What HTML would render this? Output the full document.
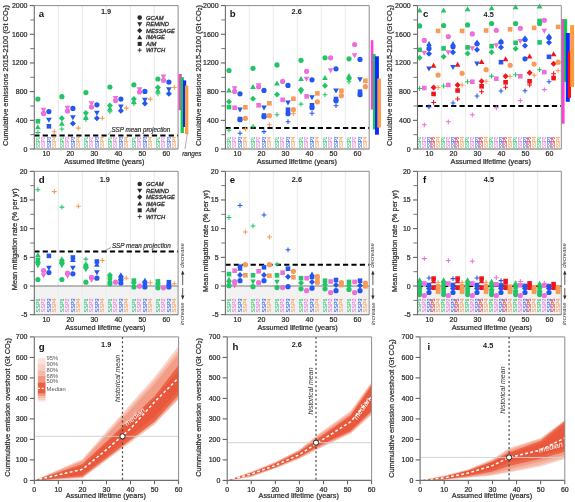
<!DOCTYPE html>
<html><head><meta charset="utf-8"><style>
html,body{margin:0;padding:0;background:#fff;}
svg{display:block;will-change:transform;font-family:"Liberation Sans", sans-serif;}
.t{stroke:#2a2a2a;stroke-width:0.22px;}
</style></head><body>
<svg width="575" height="502" viewBox="0 0 575 502">
<rect width="575" height="502" fill="#fff"/>
<path d="M58.3 5.6V149" stroke="#ededed" stroke-width="1.3"/>
<path d="M82.3 5.6V149" stroke="#ededed" stroke-width="1.3"/>
<path d="M106.3 5.6V149" stroke="#ededed" stroke-width="1.3"/>
<path d="M130.3 5.6V149" stroke="#ededed" stroke-width="1.3"/>
<path d="M154.3 5.6V149" stroke="#ededed" stroke-width="1.3"/>
<text x="46.3" y="156.4" font-size="7" text-anchor="middle" fill="#2a2a2a" class="t">10</text>
<text x="70.3" y="156.4" font-size="7" text-anchor="middle" fill="#2a2a2a" class="t">20</text>
<text x="94.3" y="156.4" font-size="7" text-anchor="middle" fill="#2a2a2a" class="t">30</text>
<text x="118.3" y="156.4" font-size="7" text-anchor="middle" fill="#2a2a2a" class="t">40</text>
<text x="142.3" y="156.4" font-size="7" text-anchor="middle" fill="#2a2a2a" class="t">50</text>
<text x="166.3" y="156.4" font-size="7" text-anchor="middle" fill="#2a2a2a" class="t">60</text>
<text x="104.3" y="163.6" font-size="7.3" text-anchor="middle" fill="#2a2a2a" class="t">Assumed lifetime (years)</text>
<path d="M249.4 5.6V149" stroke="#ededed" stroke-width="1.3"/>
<path d="M273.4 5.6V149" stroke="#ededed" stroke-width="1.3"/>
<path d="M297.4 5.6V149" stroke="#ededed" stroke-width="1.3"/>
<path d="M321.4 5.6V149" stroke="#ededed" stroke-width="1.3"/>
<path d="M345.4 5.6V149" stroke="#ededed" stroke-width="1.3"/>
<text x="237.4" y="156.4" font-size="7" text-anchor="middle" fill="#2a2a2a" class="t">10</text>
<text x="261.4" y="156.4" font-size="7" text-anchor="middle" fill="#2a2a2a" class="t">20</text>
<text x="285.4" y="156.4" font-size="7" text-anchor="middle" fill="#2a2a2a" class="t">30</text>
<text x="309.4" y="156.4" font-size="7" text-anchor="middle" fill="#2a2a2a" class="t">40</text>
<text x="333.4" y="156.4" font-size="7" text-anchor="middle" fill="#2a2a2a" class="t">50</text>
<text x="357.4" y="156.4" font-size="7" text-anchor="middle" fill="#2a2a2a" class="t">60</text>
<text x="296.8" y="163.6" font-size="7.3" text-anchor="middle" fill="#2a2a2a" class="t">Assumed lifetime (years)</text>
<path d="M441.5 5.6V149" stroke="#ededed" stroke-width="1.3"/>
<path d="M465.5 5.6V149" stroke="#ededed" stroke-width="1.3"/>
<path d="M489.5 5.6V149" stroke="#ededed" stroke-width="1.3"/>
<path d="M513.5 5.6V149" stroke="#ededed" stroke-width="1.3"/>
<path d="M537.5 5.6V149" stroke="#ededed" stroke-width="1.3"/>
<text x="429.5" y="156.4" font-size="7" text-anchor="middle" fill="#2a2a2a" class="t">10</text>
<text x="453.5" y="156.4" font-size="7" text-anchor="middle" fill="#2a2a2a" class="t">20</text>
<text x="477.5" y="156.4" font-size="7" text-anchor="middle" fill="#2a2a2a" class="t">30</text>
<text x="501.5" y="156.4" font-size="7" text-anchor="middle" fill="#2a2a2a" class="t">40</text>
<text x="525.5" y="156.4" font-size="7" text-anchor="middle" fill="#2a2a2a" class="t">50</text>
<text x="549.5" y="156.4" font-size="7" text-anchor="middle" fill="#2a2a2a" class="t">60</text>
<text x="490.7" y="163.6" font-size="7.3" text-anchor="middle" fill="#2a2a2a" class="t">Assumed lifetime (years)</text>
<rect x="34.3" y="286.02" width="143.8" height="28.68" fill="#f2f2f2"/>
<path d="M58.3 171.3V314.7" stroke="#ededed" stroke-width="1.3"/>
<path d="M82.3 171.3V314.7" stroke="#ededed" stroke-width="1.3"/>
<path d="M106.3 171.3V314.7" stroke="#ededed" stroke-width="1.3"/>
<path d="M130.3 171.3V314.7" stroke="#ededed" stroke-width="1.3"/>
<path d="M154.3 171.3V314.7" stroke="#ededed" stroke-width="1.3"/>
<text x="46.3" y="322.4" font-size="7" text-anchor="middle" fill="#2a2a2a" class="t">10</text>
<text x="70.3" y="322.4" font-size="7" text-anchor="middle" fill="#2a2a2a" class="t">20</text>
<text x="94.3" y="322.4" font-size="7" text-anchor="middle" fill="#2a2a2a" class="t">30</text>
<text x="118.3" y="322.4" font-size="7" text-anchor="middle" fill="#2a2a2a" class="t">40</text>
<text x="142.3" y="322.4" font-size="7" text-anchor="middle" fill="#2a2a2a" class="t">50</text>
<text x="166.3" y="322.4" font-size="7" text-anchor="middle" fill="#2a2a2a" class="t">60</text>
<text x="105.4" y="329.6" font-size="7.3" text-anchor="middle" fill="#2a2a2a" class="t">Assumed lifetime (years)</text>
<rect x="225.4" y="286.02" width="143.8" height="28.68" fill="#f2f2f2"/>
<path d="M249.4 171.3V314.7" stroke="#ededed" stroke-width="1.3"/>
<path d="M273.4 171.3V314.7" stroke="#ededed" stroke-width="1.3"/>
<path d="M297.4 171.3V314.7" stroke="#ededed" stroke-width="1.3"/>
<path d="M321.4 171.3V314.7" stroke="#ededed" stroke-width="1.3"/>
<path d="M345.4 171.3V314.7" stroke="#ededed" stroke-width="1.3"/>
<text x="237.4" y="322.4" font-size="7" text-anchor="middle" fill="#2a2a2a" class="t">10</text>
<text x="261.4" y="322.4" font-size="7" text-anchor="middle" fill="#2a2a2a" class="t">20</text>
<text x="285.4" y="322.4" font-size="7" text-anchor="middle" fill="#2a2a2a" class="t">30</text>
<text x="309.4" y="322.4" font-size="7" text-anchor="middle" fill="#2a2a2a" class="t">40</text>
<text x="333.4" y="322.4" font-size="7" text-anchor="middle" fill="#2a2a2a" class="t">50</text>
<text x="357.4" y="322.4" font-size="7" text-anchor="middle" fill="#2a2a2a" class="t">60</text>
<text x="297.6" y="329.6" font-size="7.3" text-anchor="middle" fill="#2a2a2a" class="t">Assumed lifetime (years)</text>
<rect x="417.5" y="286.02" width="143.8" height="28.68" fill="#f2f2f2"/>
<path d="M441.5 171.3V314.7" stroke="#ededed" stroke-width="1.3"/>
<path d="M465.5 171.3V314.7" stroke="#ededed" stroke-width="1.3"/>
<path d="M489.5 171.3V314.7" stroke="#ededed" stroke-width="1.3"/>
<path d="M513.5 171.3V314.7" stroke="#ededed" stroke-width="1.3"/>
<path d="M537.5 171.3V314.7" stroke="#ededed" stroke-width="1.3"/>
<text x="429.5" y="322.4" font-size="7" text-anchor="middle" fill="#2a2a2a" class="t">10</text>
<text x="453.5" y="322.4" font-size="7" text-anchor="middle" fill="#2a2a2a" class="t">20</text>
<text x="477.5" y="322.4" font-size="7" text-anchor="middle" fill="#2a2a2a" class="t">30</text>
<text x="501.5" y="322.4" font-size="7" text-anchor="middle" fill="#2a2a2a" class="t">40</text>
<text x="525.5" y="322.4" font-size="7" text-anchor="middle" fill="#2a2a2a" class="t">50</text>
<text x="549.5" y="322.4" font-size="7" text-anchor="middle" fill="#2a2a2a" class="t">60</text>
<text x="491.8" y="329.6" font-size="7.3" text-anchor="middle" fill="#2a2a2a" class="t">Assumed lifetime (years)</text>
<path d="M29.8 149H34.3" stroke="#555" stroke-width="1"/>
<text x="27.5" y="151.5" font-size="7" text-anchor="end" fill="#2a2a2a" class="t">0</text>
<path d="M29.8 120.32H34.3" stroke="#555" stroke-width="1"/>
<text x="27.5" y="122.82" font-size="7" text-anchor="end" fill="#2a2a2a" class="t">400</text>
<path d="M29.8 91.64H34.3" stroke="#555" stroke-width="1"/>
<text x="27.5" y="94.14" font-size="7" text-anchor="end" fill="#2a2a2a" class="t">800</text>
<path d="M29.8 62.96H34.3" stroke="#555" stroke-width="1"/>
<text x="27.5" y="65.46" font-size="7" text-anchor="end" fill="#2a2a2a" class="t">1200</text>
<path d="M29.8 34.28H34.3" stroke="#555" stroke-width="1"/>
<text x="27.5" y="36.78" font-size="7" text-anchor="end" fill="#2a2a2a" class="t">1600</text>
<path d="M29.8 5.6H34.3" stroke="#555" stroke-width="1"/>
<text x="27.5" y="8.1" font-size="7" text-anchor="end" fill="#2a2a2a" class="t">2000</text>
<path d="M30.3 134.66H34.3" stroke="#666" stroke-width="0.9"/>
<path d="M30.3 105.98H34.3" stroke="#666" stroke-width="0.9"/>
<path d="M30.3 77.3H34.3" stroke="#666" stroke-width="0.9"/>
<path d="M30.3 48.62H34.3" stroke="#666" stroke-width="0.9"/>
<path d="M30.3 19.94H34.3" stroke="#666" stroke-width="0.9"/>
<text x="7.6" y="75.5" font-size="7.45" text-anchor="middle" fill="#333" transform="rotate(-90 7.6 75.5)" class="t">Cumulative emissions 2015-2100 (Gt CO<tspan font-size="4.9" dy="1.3">2</tspan><tspan dy="-1.3">)</tspan></text>
<path d="M29.8 314.7H34.3" stroke="#555" stroke-width="1"/>
<text x="27.5" y="317.2" font-size="7" text-anchor="end" fill="#2a2a2a" class="t">-5</text>
<path d="M29.8 286.02H34.3" stroke="#555" stroke-width="1"/>
<text x="27.5" y="288.52" font-size="7" text-anchor="end" fill="#2a2a2a" class="t">0</text>
<path d="M29.8 257.34H34.3" stroke="#555" stroke-width="1"/>
<text x="27.5" y="259.84" font-size="7" text-anchor="end" fill="#2a2a2a" class="t">5</text>
<path d="M29.8 228.66H34.3" stroke="#555" stroke-width="1"/>
<text x="27.5" y="231.16" font-size="7" text-anchor="end" fill="#2a2a2a" class="t">10</text>
<path d="M29.8 199.98H34.3" stroke="#555" stroke-width="1"/>
<text x="27.5" y="202.48" font-size="7" text-anchor="end" fill="#2a2a2a" class="t">15</text>
<path d="M29.8 171.3H34.3" stroke="#555" stroke-width="1"/>
<text x="27.5" y="173.8" font-size="7" text-anchor="end" fill="#2a2a2a" class="t">20</text>
<path d="M30.3 300.36H34.3" stroke="#666" stroke-width="0.9"/>
<path d="M30.3 271.68H34.3" stroke="#666" stroke-width="0.9"/>
<path d="M30.3 243H34.3" stroke="#666" stroke-width="0.9"/>
<path d="M30.3 214.32H34.3" stroke="#666" stroke-width="0.9"/>
<path d="M30.3 185.64H34.3" stroke="#666" stroke-width="0.9"/>
<text x="17.1" y="239.3" font-size="7.45" text-anchor="middle" fill="#333" transform="rotate(-90 17.1 239.3)" class="t">Mean mitigation rate (% per yr)</text>
<path d="M29.8 480.4H34.3" stroke="#555" stroke-width="1"/>
<text x="27.5" y="482.9" font-size="7" text-anchor="end" fill="#2a2a2a" class="t">0</text>
<path d="M29.8 459.9H34.3" stroke="#555" stroke-width="1"/>
<text x="27.5" y="462.4" font-size="7" text-anchor="end" fill="#2a2a2a" class="t">100</text>
<path d="M29.8 439.4H34.3" stroke="#555" stroke-width="1"/>
<text x="27.5" y="441.9" font-size="7" text-anchor="end" fill="#2a2a2a" class="t">200</text>
<path d="M29.8 418.9H34.3" stroke="#555" stroke-width="1"/>
<text x="27.5" y="421.4" font-size="7" text-anchor="end" fill="#2a2a2a" class="t">300</text>
<path d="M29.8 398.4H34.3" stroke="#555" stroke-width="1"/>
<text x="27.5" y="400.9" font-size="7" text-anchor="end" fill="#2a2a2a" class="t">400</text>
<path d="M29.8 377.9H34.3" stroke="#555" stroke-width="1"/>
<text x="27.5" y="380.4" font-size="7" text-anchor="end" fill="#2a2a2a" class="t">500</text>
<path d="M29.8 357.4H34.3" stroke="#555" stroke-width="1"/>
<text x="27.5" y="359.9" font-size="7" text-anchor="end" fill="#2a2a2a" class="t">600</text>
<path d="M29.8 336.9H34.3" stroke="#555" stroke-width="1"/>
<text x="27.5" y="339.4" font-size="7" text-anchor="end" fill="#2a2a2a" class="t">700</text>
<text x="10.1" y="407.4" font-size="7.35" text-anchor="middle" fill="#333" transform="rotate(-90 10.1 407.4)" class="t">Cummulative emission overshoot (Gt CO<tspan font-size="4.9" dy="1.3">2</tspan><tspan dy="-1.3">)</tspan></text>
<path d="M220.9 149H225.4" stroke="#555" stroke-width="1"/>
<text x="218.6" y="151.5" font-size="7" text-anchor="end" fill="#2a2a2a" class="t">0</text>
<path d="M220.9 120.32H225.4" stroke="#555" stroke-width="1"/>
<text x="218.6" y="122.82" font-size="7" text-anchor="end" fill="#2a2a2a" class="t">400</text>
<path d="M220.9 91.64H225.4" stroke="#555" stroke-width="1"/>
<text x="218.6" y="94.14" font-size="7" text-anchor="end" fill="#2a2a2a" class="t">800</text>
<path d="M220.9 62.96H225.4" stroke="#555" stroke-width="1"/>
<text x="218.6" y="65.46" font-size="7" text-anchor="end" fill="#2a2a2a" class="t">1200</text>
<path d="M220.9 34.28H225.4" stroke="#555" stroke-width="1"/>
<text x="218.6" y="36.78" font-size="7" text-anchor="end" fill="#2a2a2a" class="t">1600</text>
<path d="M220.9 5.6H225.4" stroke="#555" stroke-width="1"/>
<text x="218.6" y="8.1" font-size="7" text-anchor="end" fill="#2a2a2a" class="t">2000</text>
<path d="M221.4 134.66H225.4" stroke="#666" stroke-width="0.9"/>
<path d="M221.4 105.98H225.4" stroke="#666" stroke-width="0.9"/>
<path d="M221.4 77.3H225.4" stroke="#666" stroke-width="0.9"/>
<path d="M221.4 48.62H225.4" stroke="#666" stroke-width="0.9"/>
<path d="M221.4 19.94H225.4" stroke="#666" stroke-width="0.9"/>
<text x="200.9" y="75.5" font-size="7.45" text-anchor="middle" fill="#333" transform="rotate(-90 200.9 75.5)" class="t">Cumulative emissions 2015-2100 (Gt CO<tspan font-size="4.9" dy="1.3">2</tspan><tspan dy="-1.3">)</tspan></text>
<path d="M220.9 314.7H225.4" stroke="#555" stroke-width="1"/>
<text x="218.6" y="317.2" font-size="7" text-anchor="end" fill="#2a2a2a" class="t">-5</text>
<path d="M220.9 286.02H225.4" stroke="#555" stroke-width="1"/>
<text x="218.6" y="288.52" font-size="7" text-anchor="end" fill="#2a2a2a" class="t">0</text>
<path d="M220.9 257.34H225.4" stroke="#555" stroke-width="1"/>
<text x="218.6" y="259.84" font-size="7" text-anchor="end" fill="#2a2a2a" class="t">5</text>
<path d="M220.9 228.66H225.4" stroke="#555" stroke-width="1"/>
<text x="218.6" y="231.16" font-size="7" text-anchor="end" fill="#2a2a2a" class="t">10</text>
<path d="M220.9 199.98H225.4" stroke="#555" stroke-width="1"/>
<text x="218.6" y="202.48" font-size="7" text-anchor="end" fill="#2a2a2a" class="t">15</text>
<path d="M220.9 171.3H225.4" stroke="#555" stroke-width="1"/>
<text x="218.6" y="173.8" font-size="7" text-anchor="end" fill="#2a2a2a" class="t">20</text>
<path d="M221.4 300.36H225.4" stroke="#666" stroke-width="0.9"/>
<path d="M221.4 271.68H225.4" stroke="#666" stroke-width="0.9"/>
<path d="M221.4 243H225.4" stroke="#666" stroke-width="0.9"/>
<path d="M221.4 214.32H225.4" stroke="#666" stroke-width="0.9"/>
<path d="M221.4 185.64H225.4" stroke="#666" stroke-width="0.9"/>
<text x="208.1" y="241" font-size="7.45" text-anchor="middle" fill="#333" transform="rotate(-90 208.1 241)" class="t">Mean mitigation rate (% per yr)</text>
<path d="M222.7 480.4H227.2" stroke="#555" stroke-width="1"/>
<text x="220.4" y="482.9" font-size="7" text-anchor="end" fill="#2a2a2a" class="t">0</text>
<path d="M222.7 459.9H227.2" stroke="#555" stroke-width="1"/>
<text x="220.4" y="462.4" font-size="7" text-anchor="end" fill="#2a2a2a" class="t">100</text>
<path d="M222.7 439.4H227.2" stroke="#555" stroke-width="1"/>
<text x="220.4" y="441.9" font-size="7" text-anchor="end" fill="#2a2a2a" class="t">200</text>
<path d="M222.7 418.9H227.2" stroke="#555" stroke-width="1"/>
<text x="220.4" y="421.4" font-size="7" text-anchor="end" fill="#2a2a2a" class="t">300</text>
<path d="M222.7 398.4H227.2" stroke="#555" stroke-width="1"/>
<text x="220.4" y="400.9" font-size="7" text-anchor="end" fill="#2a2a2a" class="t">400</text>
<path d="M222.7 377.9H227.2" stroke="#555" stroke-width="1"/>
<text x="220.4" y="380.4" font-size="7" text-anchor="end" fill="#2a2a2a" class="t">500</text>
<path d="M222.7 357.4H227.2" stroke="#555" stroke-width="1"/>
<text x="220.4" y="359.9" font-size="7" text-anchor="end" fill="#2a2a2a" class="t">600</text>
<path d="M222.7 336.9H227.2" stroke="#555" stroke-width="1"/>
<text x="220.4" y="339.4" font-size="7" text-anchor="end" fill="#2a2a2a" class="t">700</text>
<text x="201.2" y="407.4" font-size="7.35" text-anchor="middle" fill="#333" transform="rotate(-90 201.2 407.4)" class="t">Cummulative emission overshoot (Gt CO<tspan font-size="4.9" dy="1.3">2</tspan><tspan dy="-1.3">)</tspan></text>
<path d="M413 149H417.5" stroke="#555" stroke-width="1"/>
<text x="410.7" y="151.5" font-size="7" text-anchor="end" fill="#2a2a2a" class="t">0</text>
<path d="M413 120.32H417.5" stroke="#555" stroke-width="1"/>
<text x="410.7" y="122.82" font-size="7" text-anchor="end" fill="#2a2a2a" class="t">400</text>
<path d="M413 91.64H417.5" stroke="#555" stroke-width="1"/>
<text x="410.7" y="94.14" font-size="7" text-anchor="end" fill="#2a2a2a" class="t">800</text>
<path d="M413 62.96H417.5" stroke="#555" stroke-width="1"/>
<text x="410.7" y="65.46" font-size="7" text-anchor="end" fill="#2a2a2a" class="t">1200</text>
<path d="M413 34.28H417.5" stroke="#555" stroke-width="1"/>
<text x="410.7" y="36.78" font-size="7" text-anchor="end" fill="#2a2a2a" class="t">1600</text>
<path d="M413 5.6H417.5" stroke="#555" stroke-width="1"/>
<text x="410.7" y="8.1" font-size="7" text-anchor="end" fill="#2a2a2a" class="t">2000</text>
<path d="M413.5 134.66H417.5" stroke="#666" stroke-width="0.9"/>
<path d="M413.5 105.98H417.5" stroke="#666" stroke-width="0.9"/>
<path d="M413.5 77.3H417.5" stroke="#666" stroke-width="0.9"/>
<path d="M413.5 48.62H417.5" stroke="#666" stroke-width="0.9"/>
<path d="M413.5 19.94H417.5" stroke="#666" stroke-width="0.9"/>
<text x="392.4" y="75.5" font-size="7.45" text-anchor="middle" fill="#333" transform="rotate(-90 392.4 75.5)" class="t">Cumulative emissions 2015-2100 (Gt CO<tspan font-size="4.9" dy="1.3">2</tspan><tspan dy="-1.3">)</tspan></text>
<path d="M413 314.7H417.5" stroke="#555" stroke-width="1"/>
<text x="410.7" y="317.2" font-size="7" text-anchor="end" fill="#2a2a2a" class="t">-5</text>
<path d="M413 286.02H417.5" stroke="#555" stroke-width="1"/>
<text x="410.7" y="288.52" font-size="7" text-anchor="end" fill="#2a2a2a" class="t">0</text>
<path d="M413 257.34H417.5" stroke="#555" stroke-width="1"/>
<text x="410.7" y="259.84" font-size="7" text-anchor="end" fill="#2a2a2a" class="t">5</text>
<path d="M413 228.66H417.5" stroke="#555" stroke-width="1"/>
<text x="410.7" y="231.16" font-size="7" text-anchor="end" fill="#2a2a2a" class="t">10</text>
<path d="M413 199.98H417.5" stroke="#555" stroke-width="1"/>
<text x="410.7" y="202.48" font-size="7" text-anchor="end" fill="#2a2a2a" class="t">15</text>
<path d="M413 171.3H417.5" stroke="#555" stroke-width="1"/>
<text x="410.7" y="173.8" font-size="7" text-anchor="end" fill="#2a2a2a" class="t">20</text>
<path d="M413.5 300.36H417.5" stroke="#666" stroke-width="0.9"/>
<path d="M413.5 271.68H417.5" stroke="#666" stroke-width="0.9"/>
<path d="M413.5 243H417.5" stroke="#666" stroke-width="0.9"/>
<path d="M413.5 214.32H417.5" stroke="#666" stroke-width="0.9"/>
<path d="M413.5 185.64H417.5" stroke="#666" stroke-width="0.9"/>
<text x="397.3" y="241" font-size="7.45" text-anchor="middle" fill="#333" transform="rotate(-90 397.3 241)" class="t">Mean mitigation rate (% per yr)</text>
<path d="M415.6 480.4H420.1" stroke="#555" stroke-width="1"/>
<text x="413.3" y="482.9" font-size="7" text-anchor="end" fill="#2a2a2a" class="t">0</text>
<path d="M415.6 459.9H420.1" stroke="#555" stroke-width="1"/>
<text x="413.3" y="462.4" font-size="7" text-anchor="end" fill="#2a2a2a" class="t">100</text>
<path d="M415.6 439.4H420.1" stroke="#555" stroke-width="1"/>
<text x="413.3" y="441.9" font-size="7" text-anchor="end" fill="#2a2a2a" class="t">200</text>
<path d="M415.6 418.9H420.1" stroke="#555" stroke-width="1"/>
<text x="413.3" y="421.4" font-size="7" text-anchor="end" fill="#2a2a2a" class="t">300</text>
<path d="M415.6 398.4H420.1" stroke="#555" stroke-width="1"/>
<text x="413.3" y="400.9" font-size="7" text-anchor="end" fill="#2a2a2a" class="t">400</text>
<path d="M415.6 377.9H420.1" stroke="#555" stroke-width="1"/>
<text x="413.3" y="380.4" font-size="7" text-anchor="end" fill="#2a2a2a" class="t">500</text>
<path d="M415.6 357.4H420.1" stroke="#555" stroke-width="1"/>
<text x="413.3" y="359.9" font-size="7" text-anchor="end" fill="#2a2a2a" class="t">600</text>
<path d="M415.6 336.9H420.1" stroke="#555" stroke-width="1"/>
<text x="413.3" y="339.4" font-size="7" text-anchor="end" fill="#2a2a2a" class="t">700</text>
<text x="394.4" y="408.5" font-size="7.35" text-anchor="middle" fill="#333" transform="rotate(-90 394.4 408.5)" class="t">Cummulative emission overshoot (Gt CO<tspan font-size="4.9" dy="1.3">2</tspan><tspan dy="-1.3">)</tspan></text>
<text x="39.59" y="147.9" font-size="4.7" fill="#22c468" transform="rotate(-90 39.59 147.9)" stroke="#22c468" stroke-width="0.05" textLength="11.2" lengthAdjust="spacingAndGlyphs">SSP1</text>
<text x="45.19" y="147.9" font-size="4.7" fill="#ec6fdc" transform="rotate(-90 45.19 147.9)" stroke="#ec6fdc" stroke-width="0.05" textLength="11.2" lengthAdjust="spacingAndGlyphs">SSP2</text>
<text x="50.59" y="147.9" font-size="4.7" fill="#2457f0" transform="rotate(-90 50.59 147.9)" stroke="#2457f0" stroke-width="0.05" textLength="11.2" lengthAdjust="spacingAndGlyphs">SSP3</text>
<text x="55.99" y="147.9" font-size="4.7" fill="#f79b58" transform="rotate(-90 55.99 147.9)" stroke="#f79b58" stroke-width="0.05" textLength="11.2" lengthAdjust="spacingAndGlyphs">SSP4</text>
<text x="63.59" y="147.9" font-size="4.7" fill="#22c468" transform="rotate(-90 63.59 147.9)" stroke="#22c468" stroke-width="0.05" textLength="11.2" lengthAdjust="spacingAndGlyphs">SSP1</text>
<text x="69.19" y="147.9" font-size="4.7" fill="#ec6fdc" transform="rotate(-90 69.19 147.9)" stroke="#ec6fdc" stroke-width="0.05" textLength="11.2" lengthAdjust="spacingAndGlyphs">SSP2</text>
<text x="74.59" y="147.9" font-size="4.7" fill="#2457f0" transform="rotate(-90 74.59 147.9)" stroke="#2457f0" stroke-width="0.05" textLength="11.2" lengthAdjust="spacingAndGlyphs">SSP3</text>
<text x="79.99" y="147.9" font-size="4.7" fill="#f79b58" transform="rotate(-90 79.99 147.9)" stroke="#f79b58" stroke-width="0.05" textLength="11.2" lengthAdjust="spacingAndGlyphs">SSP4</text>
<text x="87.59" y="147.9" font-size="4.7" fill="#22c468" transform="rotate(-90 87.59 147.9)" stroke="#22c468" stroke-width="0.05" textLength="11.2" lengthAdjust="spacingAndGlyphs">SSP1</text>
<text x="93.19" y="147.9" font-size="4.7" fill="#ec6fdc" transform="rotate(-90 93.19 147.9)" stroke="#ec6fdc" stroke-width="0.05" textLength="11.2" lengthAdjust="spacingAndGlyphs">SSP2</text>
<text x="98.59" y="147.9" font-size="4.7" fill="#2457f0" transform="rotate(-90 98.59 147.9)" stroke="#2457f0" stroke-width="0.05" textLength="11.2" lengthAdjust="spacingAndGlyphs">SSP3</text>
<text x="103.99" y="147.9" font-size="4.7" fill="#f79b58" transform="rotate(-90 103.99 147.9)" stroke="#f79b58" stroke-width="0.05" textLength="11.2" lengthAdjust="spacingAndGlyphs">SSP4</text>
<text x="111.59" y="147.9" font-size="4.7" fill="#22c468" transform="rotate(-90 111.59 147.9)" stroke="#22c468" stroke-width="0.05" textLength="11.2" lengthAdjust="spacingAndGlyphs">SSP1</text>
<text x="117.19" y="147.9" font-size="4.7" fill="#ec6fdc" transform="rotate(-90 117.19 147.9)" stroke="#ec6fdc" stroke-width="0.05" textLength="11.2" lengthAdjust="spacingAndGlyphs">SSP2</text>
<text x="122.59" y="147.9" font-size="4.7" fill="#2457f0" transform="rotate(-90 122.59 147.9)" stroke="#2457f0" stroke-width="0.05" textLength="11.2" lengthAdjust="spacingAndGlyphs">SSP3</text>
<text x="127.99" y="147.9" font-size="4.7" fill="#f79b58" transform="rotate(-90 127.99 147.9)" stroke="#f79b58" stroke-width="0.05" textLength="11.2" lengthAdjust="spacingAndGlyphs">SSP4</text>
<text x="135.59" y="147.9" font-size="4.7" fill="#22c468" transform="rotate(-90 135.59 147.9)" stroke="#22c468" stroke-width="0.05" textLength="11.2" lengthAdjust="spacingAndGlyphs">SSP1</text>
<text x="141.19" y="147.9" font-size="4.7" fill="#ec6fdc" transform="rotate(-90 141.19 147.9)" stroke="#ec6fdc" stroke-width="0.05" textLength="11.2" lengthAdjust="spacingAndGlyphs">SSP2</text>
<text x="146.59" y="147.9" font-size="4.7" fill="#2457f0" transform="rotate(-90 146.59 147.9)" stroke="#2457f0" stroke-width="0.05" textLength="11.2" lengthAdjust="spacingAndGlyphs">SSP3</text>
<text x="151.99" y="147.9" font-size="4.7" fill="#f79b58" transform="rotate(-90 151.99 147.9)" stroke="#f79b58" stroke-width="0.05" textLength="11.2" lengthAdjust="spacingAndGlyphs">SSP4</text>
<text x="159.59" y="147.9" font-size="4.7" fill="#22c468" transform="rotate(-90 159.59 147.9)" stroke="#22c468" stroke-width="0.05" textLength="11.2" lengthAdjust="spacingAndGlyphs">SSP1</text>
<text x="165.19" y="147.9" font-size="4.7" fill="#ec6fdc" transform="rotate(-90 165.19 147.9)" stroke="#ec6fdc" stroke-width="0.05" textLength="11.2" lengthAdjust="spacingAndGlyphs">SSP2</text>
<text x="170.59" y="147.9" font-size="4.7" fill="#2457f0" transform="rotate(-90 170.59 147.9)" stroke="#2457f0" stroke-width="0.05" textLength="11.2" lengthAdjust="spacingAndGlyphs">SSP3</text>
<text x="175.99" y="147.9" font-size="4.7" fill="#f79b58" transform="rotate(-90 175.99 147.9)" stroke="#f79b58" stroke-width="0.05" textLength="11.2" lengthAdjust="spacingAndGlyphs">SSP4</text>
<text x="39.77" y="312.4" font-size="5.2" fill="#22c468" transform="rotate(-90 39.77 312.4)" stroke="#22c468" stroke-width="0.05" textLength="14" lengthAdjust="spacingAndGlyphs">SSP1</text>
<text x="45.37" y="312.4" font-size="5.2" fill="#ec6fdc" transform="rotate(-90 45.37 312.4)" stroke="#ec6fdc" stroke-width="0.05" textLength="14" lengthAdjust="spacingAndGlyphs">SSP2</text>
<text x="50.77" y="312.4" font-size="5.2" fill="#2457f0" transform="rotate(-90 50.77 312.4)" stroke="#2457f0" stroke-width="0.05" textLength="14" lengthAdjust="spacingAndGlyphs">SSP3</text>
<text x="56.17" y="312.4" font-size="5.2" fill="#f79b58" transform="rotate(-90 56.17 312.4)" stroke="#f79b58" stroke-width="0.05" textLength="14" lengthAdjust="spacingAndGlyphs">SSP4</text>
<text x="63.77" y="312.4" font-size="5.2" fill="#22c468" transform="rotate(-90 63.77 312.4)" stroke="#22c468" stroke-width="0.05" textLength="14" lengthAdjust="spacingAndGlyphs">SSP1</text>
<text x="69.37" y="312.4" font-size="5.2" fill="#ec6fdc" transform="rotate(-90 69.37 312.4)" stroke="#ec6fdc" stroke-width="0.05" textLength="14" lengthAdjust="spacingAndGlyphs">SSP2</text>
<text x="74.77" y="312.4" font-size="5.2" fill="#2457f0" transform="rotate(-90 74.77 312.4)" stroke="#2457f0" stroke-width="0.05" textLength="14" lengthAdjust="spacingAndGlyphs">SSP3</text>
<text x="80.17" y="312.4" font-size="5.2" fill="#f79b58" transform="rotate(-90 80.17 312.4)" stroke="#f79b58" stroke-width="0.05" textLength="14" lengthAdjust="spacingAndGlyphs">SSP4</text>
<text x="87.77" y="312.4" font-size="5.2" fill="#22c468" transform="rotate(-90 87.77 312.4)" stroke="#22c468" stroke-width="0.05" textLength="14" lengthAdjust="spacingAndGlyphs">SSP1</text>
<text x="93.37" y="312.4" font-size="5.2" fill="#ec6fdc" transform="rotate(-90 93.37 312.4)" stroke="#ec6fdc" stroke-width="0.05" textLength="14" lengthAdjust="spacingAndGlyphs">SSP2</text>
<text x="98.77" y="312.4" font-size="5.2" fill="#2457f0" transform="rotate(-90 98.77 312.4)" stroke="#2457f0" stroke-width="0.05" textLength="14" lengthAdjust="spacingAndGlyphs">SSP3</text>
<text x="104.17" y="312.4" font-size="5.2" fill="#f79b58" transform="rotate(-90 104.17 312.4)" stroke="#f79b58" stroke-width="0.05" textLength="14" lengthAdjust="spacingAndGlyphs">SSP4</text>
<text x="111.77" y="312.4" font-size="5.2" fill="#22c468" transform="rotate(-90 111.77 312.4)" stroke="#22c468" stroke-width="0.05" textLength="14" lengthAdjust="spacingAndGlyphs">SSP1</text>
<text x="117.37" y="312.4" font-size="5.2" fill="#ec6fdc" transform="rotate(-90 117.37 312.4)" stroke="#ec6fdc" stroke-width="0.05" textLength="14" lengthAdjust="spacingAndGlyphs">SSP2</text>
<text x="122.77" y="312.4" font-size="5.2" fill="#2457f0" transform="rotate(-90 122.77 312.4)" stroke="#2457f0" stroke-width="0.05" textLength="14" lengthAdjust="spacingAndGlyphs">SSP3</text>
<text x="128.17" y="312.4" font-size="5.2" fill="#f79b58" transform="rotate(-90 128.17 312.4)" stroke="#f79b58" stroke-width="0.05" textLength="14" lengthAdjust="spacingAndGlyphs">SSP4</text>
<text x="135.77" y="312.4" font-size="5.2" fill="#22c468" transform="rotate(-90 135.77 312.4)" stroke="#22c468" stroke-width="0.05" textLength="14" lengthAdjust="spacingAndGlyphs">SSP1</text>
<text x="141.37" y="312.4" font-size="5.2" fill="#ec6fdc" transform="rotate(-90 141.37 312.4)" stroke="#ec6fdc" stroke-width="0.05" textLength="14" lengthAdjust="spacingAndGlyphs">SSP2</text>
<text x="146.77" y="312.4" font-size="5.2" fill="#2457f0" transform="rotate(-90 146.77 312.4)" stroke="#2457f0" stroke-width="0.05" textLength="14" lengthAdjust="spacingAndGlyphs">SSP3</text>
<text x="152.17" y="312.4" font-size="5.2" fill="#f79b58" transform="rotate(-90 152.17 312.4)" stroke="#f79b58" stroke-width="0.05" textLength="14" lengthAdjust="spacingAndGlyphs">SSP4</text>
<text x="159.77" y="312.4" font-size="5.2" fill="#22c468" transform="rotate(-90 159.77 312.4)" stroke="#22c468" stroke-width="0.05" textLength="14" lengthAdjust="spacingAndGlyphs">SSP1</text>
<text x="165.37" y="312.4" font-size="5.2" fill="#ec6fdc" transform="rotate(-90 165.37 312.4)" stroke="#ec6fdc" stroke-width="0.05" textLength="14" lengthAdjust="spacingAndGlyphs">SSP2</text>
<text x="170.77" y="312.4" font-size="5.2" fill="#2457f0" transform="rotate(-90 170.77 312.4)" stroke="#2457f0" stroke-width="0.05" textLength="14" lengthAdjust="spacingAndGlyphs">SSP3</text>
<text x="176.17" y="312.4" font-size="5.2" fill="#f79b58" transform="rotate(-90 176.17 312.4)" stroke="#f79b58" stroke-width="0.05" textLength="14" lengthAdjust="spacingAndGlyphs">SSP4</text>
<text x="230.69" y="147.9" font-size="4.7" fill="#22c468" transform="rotate(-90 230.69 147.9)" stroke="#22c468" stroke-width="0.05" textLength="11.2" lengthAdjust="spacingAndGlyphs">SSP1</text>
<text x="236.29" y="147.9" font-size="4.7" fill="#ec6fdc" transform="rotate(-90 236.29 147.9)" stroke="#ec6fdc" stroke-width="0.05" textLength="11.2" lengthAdjust="spacingAndGlyphs">SSP2</text>
<text x="241.69" y="147.9" font-size="4.7" fill="#2457f0" transform="rotate(-90 241.69 147.9)" stroke="#2457f0" stroke-width="0.05" textLength="11.2" lengthAdjust="spacingAndGlyphs">SSP3</text>
<text x="247.09" y="147.9" font-size="4.7" fill="#f79b58" transform="rotate(-90 247.09 147.9)" stroke="#f79b58" stroke-width="0.05" textLength="11.2" lengthAdjust="spacingAndGlyphs">SSP4</text>
<text x="254.69" y="147.9" font-size="4.7" fill="#22c468" transform="rotate(-90 254.69 147.9)" stroke="#22c468" stroke-width="0.05" textLength="11.2" lengthAdjust="spacingAndGlyphs">SSP1</text>
<text x="260.29" y="147.9" font-size="4.7" fill="#ec6fdc" transform="rotate(-90 260.29 147.9)" stroke="#ec6fdc" stroke-width="0.05" textLength="11.2" lengthAdjust="spacingAndGlyphs">SSP2</text>
<text x="265.69" y="147.9" font-size="4.7" fill="#2457f0" transform="rotate(-90 265.69 147.9)" stroke="#2457f0" stroke-width="0.05" textLength="11.2" lengthAdjust="spacingAndGlyphs">SSP3</text>
<text x="271.09" y="147.9" font-size="4.7" fill="#f79b58" transform="rotate(-90 271.09 147.9)" stroke="#f79b58" stroke-width="0.05" textLength="11.2" lengthAdjust="spacingAndGlyphs">SSP4</text>
<text x="278.69" y="147.9" font-size="4.7" fill="#22c468" transform="rotate(-90 278.69 147.9)" stroke="#22c468" stroke-width="0.05" textLength="11.2" lengthAdjust="spacingAndGlyphs">SSP1</text>
<text x="284.29" y="147.9" font-size="4.7" fill="#ec6fdc" transform="rotate(-90 284.29 147.9)" stroke="#ec6fdc" stroke-width="0.05" textLength="11.2" lengthAdjust="spacingAndGlyphs">SSP2</text>
<text x="289.69" y="147.9" font-size="4.7" fill="#2457f0" transform="rotate(-90 289.69 147.9)" stroke="#2457f0" stroke-width="0.05" textLength="11.2" lengthAdjust="spacingAndGlyphs">SSP3</text>
<text x="295.09" y="147.9" font-size="4.7" fill="#f79b58" transform="rotate(-90 295.09 147.9)" stroke="#f79b58" stroke-width="0.05" textLength="11.2" lengthAdjust="spacingAndGlyphs">SSP4</text>
<text x="302.69" y="147.9" font-size="4.7" fill="#22c468" transform="rotate(-90 302.69 147.9)" stroke="#22c468" stroke-width="0.05" textLength="11.2" lengthAdjust="spacingAndGlyphs">SSP1</text>
<text x="308.29" y="147.9" font-size="4.7" fill="#ec6fdc" transform="rotate(-90 308.29 147.9)" stroke="#ec6fdc" stroke-width="0.05" textLength="11.2" lengthAdjust="spacingAndGlyphs">SSP2</text>
<text x="313.69" y="147.9" font-size="4.7" fill="#2457f0" transform="rotate(-90 313.69 147.9)" stroke="#2457f0" stroke-width="0.05" textLength="11.2" lengthAdjust="spacingAndGlyphs">SSP3</text>
<text x="319.09" y="147.9" font-size="4.7" fill="#f79b58" transform="rotate(-90 319.09 147.9)" stroke="#f79b58" stroke-width="0.05" textLength="11.2" lengthAdjust="spacingAndGlyphs">SSP4</text>
<text x="326.69" y="147.9" font-size="4.7" fill="#22c468" transform="rotate(-90 326.69 147.9)" stroke="#22c468" stroke-width="0.05" textLength="11.2" lengthAdjust="spacingAndGlyphs">SSP1</text>
<text x="332.29" y="147.9" font-size="4.7" fill="#ec6fdc" transform="rotate(-90 332.29 147.9)" stroke="#ec6fdc" stroke-width="0.05" textLength="11.2" lengthAdjust="spacingAndGlyphs">SSP2</text>
<text x="337.69" y="147.9" font-size="4.7" fill="#2457f0" transform="rotate(-90 337.69 147.9)" stroke="#2457f0" stroke-width="0.05" textLength="11.2" lengthAdjust="spacingAndGlyphs">SSP3</text>
<text x="343.09" y="147.9" font-size="4.7" fill="#f79b58" transform="rotate(-90 343.09 147.9)" stroke="#f79b58" stroke-width="0.05" textLength="11.2" lengthAdjust="spacingAndGlyphs">SSP4</text>
<text x="350.69" y="147.9" font-size="4.7" fill="#22c468" transform="rotate(-90 350.69 147.9)" stroke="#22c468" stroke-width="0.05" textLength="11.2" lengthAdjust="spacingAndGlyphs">SSP1</text>
<text x="356.29" y="147.9" font-size="4.7" fill="#ec6fdc" transform="rotate(-90 356.29 147.9)" stroke="#ec6fdc" stroke-width="0.05" textLength="11.2" lengthAdjust="spacingAndGlyphs">SSP2</text>
<text x="361.69" y="147.9" font-size="4.7" fill="#2457f0" transform="rotate(-90 361.69 147.9)" stroke="#2457f0" stroke-width="0.05" textLength="11.2" lengthAdjust="spacingAndGlyphs">SSP3</text>
<text x="367.09" y="147.9" font-size="4.7" fill="#f79b58" transform="rotate(-90 367.09 147.9)" stroke="#f79b58" stroke-width="0.05" textLength="11.2" lengthAdjust="spacingAndGlyphs">SSP4</text>
<text x="230.87" y="312.4" font-size="5.2" fill="#22c468" transform="rotate(-90 230.87 312.4)" stroke="#22c468" stroke-width="0.05" textLength="14" lengthAdjust="spacingAndGlyphs">SSP1</text>
<text x="236.47" y="312.4" font-size="5.2" fill="#ec6fdc" transform="rotate(-90 236.47 312.4)" stroke="#ec6fdc" stroke-width="0.05" textLength="14" lengthAdjust="spacingAndGlyphs">SSP2</text>
<text x="241.87" y="312.4" font-size="5.2" fill="#2457f0" transform="rotate(-90 241.87 312.4)" stroke="#2457f0" stroke-width="0.05" textLength="14" lengthAdjust="spacingAndGlyphs">SSP3</text>
<text x="247.27" y="312.4" font-size="5.2" fill="#f79b58" transform="rotate(-90 247.27 312.4)" stroke="#f79b58" stroke-width="0.05" textLength="14" lengthAdjust="spacingAndGlyphs">SSP4</text>
<text x="254.87" y="312.4" font-size="5.2" fill="#22c468" transform="rotate(-90 254.87 312.4)" stroke="#22c468" stroke-width="0.05" textLength="14" lengthAdjust="spacingAndGlyphs">SSP1</text>
<text x="260.47" y="312.4" font-size="5.2" fill="#ec6fdc" transform="rotate(-90 260.47 312.4)" stroke="#ec6fdc" stroke-width="0.05" textLength="14" lengthAdjust="spacingAndGlyphs">SSP2</text>
<text x="265.87" y="312.4" font-size="5.2" fill="#2457f0" transform="rotate(-90 265.87 312.4)" stroke="#2457f0" stroke-width="0.05" textLength="14" lengthAdjust="spacingAndGlyphs">SSP3</text>
<text x="271.27" y="312.4" font-size="5.2" fill="#f79b58" transform="rotate(-90 271.27 312.4)" stroke="#f79b58" stroke-width="0.05" textLength="14" lengthAdjust="spacingAndGlyphs">SSP4</text>
<text x="278.87" y="312.4" font-size="5.2" fill="#22c468" transform="rotate(-90 278.87 312.4)" stroke="#22c468" stroke-width="0.05" textLength="14" lengthAdjust="spacingAndGlyphs">SSP1</text>
<text x="284.47" y="312.4" font-size="5.2" fill="#ec6fdc" transform="rotate(-90 284.47 312.4)" stroke="#ec6fdc" stroke-width="0.05" textLength="14" lengthAdjust="spacingAndGlyphs">SSP2</text>
<text x="289.87" y="312.4" font-size="5.2" fill="#2457f0" transform="rotate(-90 289.87 312.4)" stroke="#2457f0" stroke-width="0.05" textLength="14" lengthAdjust="spacingAndGlyphs">SSP3</text>
<text x="295.27" y="312.4" font-size="5.2" fill="#f79b58" transform="rotate(-90 295.27 312.4)" stroke="#f79b58" stroke-width="0.05" textLength="14" lengthAdjust="spacingAndGlyphs">SSP4</text>
<text x="302.87" y="312.4" font-size="5.2" fill="#22c468" transform="rotate(-90 302.87 312.4)" stroke="#22c468" stroke-width="0.05" textLength="14" lengthAdjust="spacingAndGlyphs">SSP1</text>
<text x="308.47" y="312.4" font-size="5.2" fill="#ec6fdc" transform="rotate(-90 308.47 312.4)" stroke="#ec6fdc" stroke-width="0.05" textLength="14" lengthAdjust="spacingAndGlyphs">SSP2</text>
<text x="313.87" y="312.4" font-size="5.2" fill="#2457f0" transform="rotate(-90 313.87 312.4)" stroke="#2457f0" stroke-width="0.05" textLength="14" lengthAdjust="spacingAndGlyphs">SSP3</text>
<text x="319.27" y="312.4" font-size="5.2" fill="#f79b58" transform="rotate(-90 319.27 312.4)" stroke="#f79b58" stroke-width="0.05" textLength="14" lengthAdjust="spacingAndGlyphs">SSP4</text>
<text x="326.87" y="312.4" font-size="5.2" fill="#22c468" transform="rotate(-90 326.87 312.4)" stroke="#22c468" stroke-width="0.05" textLength="14" lengthAdjust="spacingAndGlyphs">SSP1</text>
<text x="332.47" y="312.4" font-size="5.2" fill="#ec6fdc" transform="rotate(-90 332.47 312.4)" stroke="#ec6fdc" stroke-width="0.05" textLength="14" lengthAdjust="spacingAndGlyphs">SSP2</text>
<text x="337.87" y="312.4" font-size="5.2" fill="#2457f0" transform="rotate(-90 337.87 312.4)" stroke="#2457f0" stroke-width="0.05" textLength="14" lengthAdjust="spacingAndGlyphs">SSP3</text>
<text x="343.27" y="312.4" font-size="5.2" fill="#f79b58" transform="rotate(-90 343.27 312.4)" stroke="#f79b58" stroke-width="0.05" textLength="14" lengthAdjust="spacingAndGlyphs">SSP4</text>
<text x="350.87" y="312.4" font-size="5.2" fill="#22c468" transform="rotate(-90 350.87 312.4)" stroke="#22c468" stroke-width="0.05" textLength="14" lengthAdjust="spacingAndGlyphs">SSP1</text>
<text x="356.47" y="312.4" font-size="5.2" fill="#ec6fdc" transform="rotate(-90 356.47 312.4)" stroke="#ec6fdc" stroke-width="0.05" textLength="14" lengthAdjust="spacingAndGlyphs">SSP2</text>
<text x="361.87" y="312.4" font-size="5.2" fill="#2457f0" transform="rotate(-90 361.87 312.4)" stroke="#2457f0" stroke-width="0.05" textLength="14" lengthAdjust="spacingAndGlyphs">SSP3</text>
<text x="367.27" y="312.4" font-size="5.2" fill="#f79b58" transform="rotate(-90 367.27 312.4)" stroke="#f79b58" stroke-width="0.05" textLength="14" lengthAdjust="spacingAndGlyphs">SSP4</text>
<text x="421.29" y="147.9" font-size="4.7" fill="#22c468" transform="rotate(-90 421.29 147.9)" stroke="#22c468" stroke-width="0.05" textLength="11.2" lengthAdjust="spacingAndGlyphs">SSP1</text>
<text x="425.99" y="147.9" font-size="4.7" fill="#ec6fdc" transform="rotate(-90 425.99 147.9)" stroke="#ec6fdc" stroke-width="0.05" textLength="11.2" lengthAdjust="spacingAndGlyphs">SSP2</text>
<text x="430.69" y="147.9" font-size="4.7" fill="#2457f0" transform="rotate(-90 430.69 147.9)" stroke="#2457f0" stroke-width="0.05" textLength="11.2" lengthAdjust="spacingAndGlyphs">SSP3</text>
<text x="435.29" y="147.9" font-size="4.7" fill="#f0141c" transform="rotate(-90 435.29 147.9)" stroke="#f0141c" stroke-width="0.05" textLength="11.2" lengthAdjust="spacingAndGlyphs">SSP5</text>
<text x="439.79" y="147.9" font-size="4.7" fill="#f79b58" transform="rotate(-90 439.79 147.9)" stroke="#f79b58" stroke-width="0.05" textLength="11.2" lengthAdjust="spacingAndGlyphs">SSP4</text>
<text x="445.29" y="147.9" font-size="4.7" fill="#22c468" transform="rotate(-90 445.29 147.9)" stroke="#22c468" stroke-width="0.05" textLength="11.2" lengthAdjust="spacingAndGlyphs">SSP1</text>
<text x="449.99" y="147.9" font-size="4.7" fill="#ec6fdc" transform="rotate(-90 449.99 147.9)" stroke="#ec6fdc" stroke-width="0.05" textLength="11.2" lengthAdjust="spacingAndGlyphs">SSP2</text>
<text x="454.69" y="147.9" font-size="4.7" fill="#2457f0" transform="rotate(-90 454.69 147.9)" stroke="#2457f0" stroke-width="0.05" textLength="11.2" lengthAdjust="spacingAndGlyphs">SSP3</text>
<text x="459.29" y="147.9" font-size="4.7" fill="#f0141c" transform="rotate(-90 459.29 147.9)" stroke="#f0141c" stroke-width="0.05" textLength="11.2" lengthAdjust="spacingAndGlyphs">SSP5</text>
<text x="463.79" y="147.9" font-size="4.7" fill="#f79b58" transform="rotate(-90 463.79 147.9)" stroke="#f79b58" stroke-width="0.05" textLength="11.2" lengthAdjust="spacingAndGlyphs">SSP4</text>
<text x="469.29" y="147.9" font-size="4.7" fill="#22c468" transform="rotate(-90 469.29 147.9)" stroke="#22c468" stroke-width="0.05" textLength="11.2" lengthAdjust="spacingAndGlyphs">SSP1</text>
<text x="473.99" y="147.9" font-size="4.7" fill="#ec6fdc" transform="rotate(-90 473.99 147.9)" stroke="#ec6fdc" stroke-width="0.05" textLength="11.2" lengthAdjust="spacingAndGlyphs">SSP2</text>
<text x="478.69" y="147.9" font-size="4.7" fill="#2457f0" transform="rotate(-90 478.69 147.9)" stroke="#2457f0" stroke-width="0.05" textLength="11.2" lengthAdjust="spacingAndGlyphs">SSP3</text>
<text x="483.29" y="147.9" font-size="4.7" fill="#f0141c" transform="rotate(-90 483.29 147.9)" stroke="#f0141c" stroke-width="0.05" textLength="11.2" lengthAdjust="spacingAndGlyphs">SSP5</text>
<text x="487.79" y="147.9" font-size="4.7" fill="#f79b58" transform="rotate(-90 487.79 147.9)" stroke="#f79b58" stroke-width="0.05" textLength="11.2" lengthAdjust="spacingAndGlyphs">SSP4</text>
<text x="493.29" y="147.9" font-size="4.7" fill="#22c468" transform="rotate(-90 493.29 147.9)" stroke="#22c468" stroke-width="0.05" textLength="11.2" lengthAdjust="spacingAndGlyphs">SSP1</text>
<text x="497.99" y="147.9" font-size="4.7" fill="#ec6fdc" transform="rotate(-90 497.99 147.9)" stroke="#ec6fdc" stroke-width="0.05" textLength="11.2" lengthAdjust="spacingAndGlyphs">SSP2</text>
<text x="502.69" y="147.9" font-size="4.7" fill="#2457f0" transform="rotate(-90 502.69 147.9)" stroke="#2457f0" stroke-width="0.05" textLength="11.2" lengthAdjust="spacingAndGlyphs">SSP3</text>
<text x="507.29" y="147.9" font-size="4.7" fill="#f0141c" transform="rotate(-90 507.29 147.9)" stroke="#f0141c" stroke-width="0.05" textLength="11.2" lengthAdjust="spacingAndGlyphs">SSP5</text>
<text x="511.79" y="147.9" font-size="4.7" fill="#f79b58" transform="rotate(-90 511.79 147.9)" stroke="#f79b58" stroke-width="0.05" textLength="11.2" lengthAdjust="spacingAndGlyphs">SSP4</text>
<text x="517.29" y="147.9" font-size="4.7" fill="#22c468" transform="rotate(-90 517.29 147.9)" stroke="#22c468" stroke-width="0.05" textLength="11.2" lengthAdjust="spacingAndGlyphs">SSP1</text>
<text x="521.99" y="147.9" font-size="4.7" fill="#ec6fdc" transform="rotate(-90 521.99 147.9)" stroke="#ec6fdc" stroke-width="0.05" textLength="11.2" lengthAdjust="spacingAndGlyphs">SSP2</text>
<text x="526.69" y="147.9" font-size="4.7" fill="#2457f0" transform="rotate(-90 526.69 147.9)" stroke="#2457f0" stroke-width="0.05" textLength="11.2" lengthAdjust="spacingAndGlyphs">SSP3</text>
<text x="531.29" y="147.9" font-size="4.7" fill="#f0141c" transform="rotate(-90 531.29 147.9)" stroke="#f0141c" stroke-width="0.05" textLength="11.2" lengthAdjust="spacingAndGlyphs">SSP5</text>
<text x="535.79" y="147.9" font-size="4.7" fill="#f79b58" transform="rotate(-90 535.79 147.9)" stroke="#f79b58" stroke-width="0.05" textLength="11.2" lengthAdjust="spacingAndGlyphs">SSP4</text>
<text x="541.29" y="147.9" font-size="4.7" fill="#22c468" transform="rotate(-90 541.29 147.9)" stroke="#22c468" stroke-width="0.05" textLength="11.2" lengthAdjust="spacingAndGlyphs">SSP1</text>
<text x="545.99" y="147.9" font-size="4.7" fill="#ec6fdc" transform="rotate(-90 545.99 147.9)" stroke="#ec6fdc" stroke-width="0.05" textLength="11.2" lengthAdjust="spacingAndGlyphs">SSP2</text>
<text x="550.69" y="147.9" font-size="4.7" fill="#2457f0" transform="rotate(-90 550.69 147.9)" stroke="#2457f0" stroke-width="0.05" textLength="11.2" lengthAdjust="spacingAndGlyphs">SSP3</text>
<text x="555.29" y="147.9" font-size="4.7" fill="#f0141c" transform="rotate(-90 555.29 147.9)" stroke="#f0141c" stroke-width="0.05" textLength="11.2" lengthAdjust="spacingAndGlyphs">SSP5</text>
<text x="559.79" y="147.9" font-size="4.7" fill="#f79b58" transform="rotate(-90 559.79 147.9)" stroke="#f79b58" stroke-width="0.05" textLength="11.2" lengthAdjust="spacingAndGlyphs">SSP4</text>
<text x="421.47" y="312.4" font-size="5.2" fill="#22c468" transform="rotate(-90 421.47 312.4)" stroke="#22c468" stroke-width="0.05" textLength="14" lengthAdjust="spacingAndGlyphs">SSP1</text>
<text x="426.17" y="312.4" font-size="5.2" fill="#ec6fdc" transform="rotate(-90 426.17 312.4)" stroke="#ec6fdc" stroke-width="0.05" textLength="14" lengthAdjust="spacingAndGlyphs">SSP2</text>
<text x="430.87" y="312.4" font-size="5.2" fill="#2457f0" transform="rotate(-90 430.87 312.4)" stroke="#2457f0" stroke-width="0.05" textLength="14" lengthAdjust="spacingAndGlyphs">SSP3</text>
<text x="435.47" y="312.4" font-size="5.2" fill="#f0141c" transform="rotate(-90 435.47 312.4)" stroke="#f0141c" stroke-width="0.05" textLength="14" lengthAdjust="spacingAndGlyphs">SSP5</text>
<text x="439.97" y="312.4" font-size="5.2" fill="#f79b58" transform="rotate(-90 439.97 312.4)" stroke="#f79b58" stroke-width="0.05" textLength="14" lengthAdjust="spacingAndGlyphs">SSP4</text>
<text x="445.47" y="312.4" font-size="5.2" fill="#22c468" transform="rotate(-90 445.47 312.4)" stroke="#22c468" stroke-width="0.05" textLength="14" lengthAdjust="spacingAndGlyphs">SSP1</text>
<text x="450.17" y="312.4" font-size="5.2" fill="#ec6fdc" transform="rotate(-90 450.17 312.4)" stroke="#ec6fdc" stroke-width="0.05" textLength="14" lengthAdjust="spacingAndGlyphs">SSP2</text>
<text x="454.87" y="312.4" font-size="5.2" fill="#2457f0" transform="rotate(-90 454.87 312.4)" stroke="#2457f0" stroke-width="0.05" textLength="14" lengthAdjust="spacingAndGlyphs">SSP3</text>
<text x="459.47" y="312.4" font-size="5.2" fill="#f0141c" transform="rotate(-90 459.47 312.4)" stroke="#f0141c" stroke-width="0.05" textLength="14" lengthAdjust="spacingAndGlyphs">SSP5</text>
<text x="463.97" y="312.4" font-size="5.2" fill="#f79b58" transform="rotate(-90 463.97 312.4)" stroke="#f79b58" stroke-width="0.05" textLength="14" lengthAdjust="spacingAndGlyphs">SSP4</text>
<text x="469.47" y="312.4" font-size="5.2" fill="#22c468" transform="rotate(-90 469.47 312.4)" stroke="#22c468" stroke-width="0.05" textLength="14" lengthAdjust="spacingAndGlyphs">SSP1</text>
<text x="474.17" y="312.4" font-size="5.2" fill="#ec6fdc" transform="rotate(-90 474.17 312.4)" stroke="#ec6fdc" stroke-width="0.05" textLength="14" lengthAdjust="spacingAndGlyphs">SSP2</text>
<text x="478.87" y="312.4" font-size="5.2" fill="#2457f0" transform="rotate(-90 478.87 312.4)" stroke="#2457f0" stroke-width="0.05" textLength="14" lengthAdjust="spacingAndGlyphs">SSP3</text>
<text x="483.47" y="312.4" font-size="5.2" fill="#f0141c" transform="rotate(-90 483.47 312.4)" stroke="#f0141c" stroke-width="0.05" textLength="14" lengthAdjust="spacingAndGlyphs">SSP5</text>
<text x="487.97" y="312.4" font-size="5.2" fill="#f79b58" transform="rotate(-90 487.97 312.4)" stroke="#f79b58" stroke-width="0.05" textLength="14" lengthAdjust="spacingAndGlyphs">SSP4</text>
<text x="493.47" y="312.4" font-size="5.2" fill="#22c468" transform="rotate(-90 493.47 312.4)" stroke="#22c468" stroke-width="0.05" textLength="14" lengthAdjust="spacingAndGlyphs">SSP1</text>
<text x="498.17" y="312.4" font-size="5.2" fill="#ec6fdc" transform="rotate(-90 498.17 312.4)" stroke="#ec6fdc" stroke-width="0.05" textLength="14" lengthAdjust="spacingAndGlyphs">SSP2</text>
<text x="502.87" y="312.4" font-size="5.2" fill="#2457f0" transform="rotate(-90 502.87 312.4)" stroke="#2457f0" stroke-width="0.05" textLength="14" lengthAdjust="spacingAndGlyphs">SSP3</text>
<text x="507.47" y="312.4" font-size="5.2" fill="#f0141c" transform="rotate(-90 507.47 312.4)" stroke="#f0141c" stroke-width="0.05" textLength="14" lengthAdjust="spacingAndGlyphs">SSP5</text>
<text x="511.97" y="312.4" font-size="5.2" fill="#f79b58" transform="rotate(-90 511.97 312.4)" stroke="#f79b58" stroke-width="0.05" textLength="14" lengthAdjust="spacingAndGlyphs">SSP4</text>
<text x="517.47" y="312.4" font-size="5.2" fill="#22c468" transform="rotate(-90 517.47 312.4)" stroke="#22c468" stroke-width="0.05" textLength="14" lengthAdjust="spacingAndGlyphs">SSP1</text>
<text x="522.17" y="312.4" font-size="5.2" fill="#ec6fdc" transform="rotate(-90 522.17 312.4)" stroke="#ec6fdc" stroke-width="0.05" textLength="14" lengthAdjust="spacingAndGlyphs">SSP2</text>
<text x="526.87" y="312.4" font-size="5.2" fill="#2457f0" transform="rotate(-90 526.87 312.4)" stroke="#2457f0" stroke-width="0.05" textLength="14" lengthAdjust="spacingAndGlyphs">SSP3</text>
<text x="531.47" y="312.4" font-size="5.2" fill="#f0141c" transform="rotate(-90 531.47 312.4)" stroke="#f0141c" stroke-width="0.05" textLength="14" lengthAdjust="spacingAndGlyphs">SSP5</text>
<text x="535.97" y="312.4" font-size="5.2" fill="#f79b58" transform="rotate(-90 535.97 312.4)" stroke="#f79b58" stroke-width="0.05" textLength="14" lengthAdjust="spacingAndGlyphs">SSP4</text>
<text x="541.47" y="312.4" font-size="5.2" fill="#22c468" transform="rotate(-90 541.47 312.4)" stroke="#22c468" stroke-width="0.05" textLength="14" lengthAdjust="spacingAndGlyphs">SSP1</text>
<text x="546.17" y="312.4" font-size="5.2" fill="#ec6fdc" transform="rotate(-90 546.17 312.4)" stroke="#ec6fdc" stroke-width="0.05" textLength="14" lengthAdjust="spacingAndGlyphs">SSP2</text>
<text x="550.87" y="312.4" font-size="5.2" fill="#2457f0" transform="rotate(-90 550.87 312.4)" stroke="#2457f0" stroke-width="0.05" textLength="14" lengthAdjust="spacingAndGlyphs">SSP3</text>
<text x="555.47" y="312.4" font-size="5.2" fill="#f0141c" transform="rotate(-90 555.47 312.4)" stroke="#f0141c" stroke-width="0.05" textLength="14" lengthAdjust="spacingAndGlyphs">SSP5</text>
<text x="559.97" y="312.4" font-size="5.2" fill="#f79b58" transform="rotate(-90 559.97 312.4)" stroke="#f79b58" stroke-width="0.05" textLength="14" lengthAdjust="spacingAndGlyphs">SSP4</text>
<path d="M34.3 135.6H178.1" stroke="#000" stroke-width="2.0" stroke-dasharray="5.2 3.2"/>
<path d="M225.4 128H369.2" stroke="#000" stroke-width="2.0" stroke-dasharray="5.2 3.2"/>
<path d="M417.5 106.1H561.3" stroke="#000" stroke-width="2.0" stroke-dasharray="5.2 3.2"/>
<path d="M34.3 251.6H178.1" stroke="#000" stroke-width="2.0" stroke-dasharray="5.2 3.2"/>
<path d="M225.4 264.8H369.2" stroke="#000" stroke-width="2.0" stroke-dasharray="5.2 3.2"/>
<path d="M34.3 286.02H178.1" stroke="#7a7a7a" stroke-width="1.1"/>
<path d="M225.4 286.02H369.2" stroke="#7a7a7a" stroke-width="1.1"/>
<path d="M417.5 286.02H561.3" stroke="#7a7a7a" stroke-width="1.1"/>
<circle cx="37.9" cy="99.1" r="2.6" fill="#22c468"/>
<rect x="35.6" y="119" width="4.6" height="4.6" fill="#22c468"/>
<path d="M37.9 124.35L40.75 129.34L35.05 129.34Z" fill="#22c468"/>
<path d="M35.5 132.6H40.3M37.9 130.2V135" stroke="#22c468" stroke-width="1.05" fill="none"/>
<path d="M43.5 112.65L46.35 107.66L40.65 107.66Z" fill="#ec6fdc"/>
<circle cx="43.5" cy="113.4" r="2.6" fill="#ec6fdc"/>
<circle cx="48.9" cy="111.6" r="2.6" fill="#2457f0"/>
<path d="M48.9 122.85L51.75 117.86L46.05 117.86Z" fill="#2457f0"/>
<rect x="46.6" y="124" width="4.6" height="4.6" fill="#2457f0"/>
<path d="M51.9 131.7H56.7M54.3 129.3V134.1" stroke="#f79b58" stroke-width="1.05" fill="none"/>
<circle cx="61.9" cy="96.7" r="2.6" fill="#22c468"/>
<path d="M61.9 115.2L64.9 118.2L61.9 121.2L58.9 118.2Z" fill="#22c468"/>
<path d="M61.9 120.75L64.75 125.74L59.05 125.74Z" fill="#22c468"/>
<path d="M59.5 129H64.3M61.9 126.6V131.4" stroke="#22c468" stroke-width="1.05" fill="none"/>
<path d="M67.5 110.85L70.35 105.86L64.65 105.86Z" fill="#ec6fdc"/>
<circle cx="67.5" cy="111" r="2.6" fill="#ec6fdc"/>
<circle cx="72.9" cy="108.4" r="2.6" fill="#2457f0"/>
<path d="M72.9 120.15L75.75 115.16L70.05 115.16Z" fill="#2457f0"/>
<path d="M72.9 120.6L75.9 123.6L72.9 126.6L69.9 123.6Z" fill="#2457f0"/>
<path d="M75.9 128.1H80.7M78.3 125.7V130.5" stroke="#f79b58" stroke-width="1.05" fill="none"/>
<circle cx="85.9" cy="92.6" r="2.6" fill="#22c468"/>
<path d="M85.9 110L88.9 113L85.9 116L82.9 113Z" fill="#22c468"/>
<path d="M85.9 114.15L88.75 119.14L83.05 119.14Z" fill="#22c468"/>
<path d="M83.5 119.5H88.3M85.9 117.1V121.9" stroke="#22c468" stroke-width="1.05" fill="none"/>
<path d="M91.5 106.35L94.35 101.36L88.65 101.36Z" fill="#ec6fdc"/>
<circle cx="91.5" cy="107" r="2.6" fill="#ec6fdc"/>
<circle cx="96.9" cy="104.8" r="2.6" fill="#2457f0"/>
<path d="M96.9 115.75L99.75 110.76L94.05 110.76Z" fill="#2457f0"/>
<path d="M96.9 115.2L99.9 118.2L96.9 121.2L93.9 118.2Z" fill="#2457f0"/>
<path d="M99.9 118.2H104.7M102.3 115.8V120.6" stroke="#f79b58" stroke-width="1.05" fill="none"/>
<circle cx="109.9" cy="87" r="2.6" fill="#22c468"/>
<path d="M109.9 102.4L112.9 105.4L109.9 108.4L106.9 105.4Z" fill="#22c468"/>
<path d="M109.9 105.65L112.75 110.64L107.05 110.64Z" fill="#22c468"/>
<path d="M107.5 111.7H112.3M109.9 109.3V114.1" stroke="#22c468" stroke-width="1.05" fill="none"/>
<path d="M115.5 101.05L118.35 96.06L112.65 96.06Z" fill="#ec6fdc"/>
<circle cx="115.5" cy="100.5" r="2.6" fill="#ec6fdc"/>
<circle cx="120.9" cy="99.1" r="2.6" fill="#2457f0"/>
<path d="M120.9 109.55L123.75 104.56L118.05 104.56Z" fill="#2457f0"/>
<path d="M120.9 107.8L123.9 110.8L120.9 113.8L117.9 110.8Z" fill="#2457f0"/>
<path d="M123.9 108.1H128.7M126.3 105.7V110.5" stroke="#f79b58" stroke-width="1.05" fill="none"/>
<circle cx="133.9" cy="84.8" r="2.6" fill="#22c468"/>
<path d="M133.9 96.1L136.9 99.1L133.9 102.1L130.9 99.1Z" fill="#22c468"/>
<path d="M133.9 98.65L136.75 103.64L131.05 103.64Z" fill="#22c468"/>
<path d="M131.5 103.6H136.3M133.9 101.2V106" stroke="#22c468" stroke-width="1.05" fill="none"/>
<path d="M139.5 92.15L142.35 87.16L136.65 87.16Z" fill="#ec6fdc"/>
<circle cx="139.5" cy="92" r="2.6" fill="#ec6fdc"/>
<circle cx="144.9" cy="91.4" r="2.6" fill="#2457f0"/>
<path d="M144.9 102.85L147.75 97.86L142.05 97.86Z" fill="#2457f0"/>
<path d="M144.9 100.6L147.9 103.6L144.9 106.6L141.9 103.6Z" fill="#2457f0"/>
<path d="M147.9 99.1H152.7M150.3 96.7V101.5" stroke="#f79b58" stroke-width="1.05" fill="none"/>
<circle cx="157.9" cy="79" r="2.6" fill="#22c468"/>
<path d="M157.9 84.5L160.9 87.5L157.9 90.5L154.9 87.5Z" fill="#22c468"/>
<path d="M157.9 87.65L160.75 92.64L155.05 92.64Z" fill="#22c468"/>
<path d="M155.5 93.8H160.3M157.9 91.4V96.2" stroke="#22c468" stroke-width="1.05" fill="none"/>
<path d="M163.5 79.55L166.35 74.56L160.65 74.56Z" fill="#ec6fdc"/>
<circle cx="163.5" cy="80.3" r="2.6" fill="#ec6fdc"/>
<circle cx="168.9" cy="82.1" r="2.6" fill="#2457f0"/>
<path d="M168.9 92.15L171.75 87.16L166.05 87.16Z" fill="#2457f0"/>
<path d="M168.9 90.8L171.9 93.8L168.9 96.8L165.9 93.8Z" fill="#2457f0"/>
<path d="M171.9 87.5H176.7M174.3 85.1V89.9" stroke="#f79b58" stroke-width="1.05" fill="none"/>
<circle cx="229" cy="70.5" r="2.6" fill="#22c468"/>
<path d="M229 87.55L231.85 92.54L226.15 92.54Z" fill="#22c468"/>
<path d="M229 98.8L232 101.8L229 104.8L226 101.8Z" fill="#22c468"/>
<rect x="226.7" y="104.8" width="4.6" height="4.6" fill="#22c468"/>
<path d="M226.6 130.2H231.4M229 127.8V132.6" stroke="#22c468" stroke-width="1.05" fill="none"/>
<path d="M234.6 91.25L237.45 86.26L231.75 86.26Z" fill="#ec6fdc"/>
<circle cx="234.6" cy="91.4" r="2.6" fill="#ec6fdc"/>
<rect x="232.3" y="105.4" width="4.6" height="4.6" fill="#ec6fdc"/>
<circle cx="240" cy="93.8" r="2.6" fill="#2457f0"/>
<path d="M240 112.55L242.85 107.56L237.15 107.56Z" fill="#2457f0"/>
<rect x="237.7" y="116.7" width="4.6" height="4.6" fill="#2457f0"/>
<circle cx="240" cy="119.7" r="2.6" fill="#2457f0"/>
<path d="M237.6 133.2H242.4M240 130.8V135.6" stroke="#2457f0" stroke-width="1.05" fill="none"/>
<rect x="243.1" y="105" width="4.6" height="4.6" fill="#f79b58"/>
<circle cx="245.4" cy="118.3" r="2.6" fill="#f79b58"/>
<path d="M243 129H247.8M245.4 126.6V131.4" stroke="#f79b58" stroke-width="1.05" fill="none"/>
<circle cx="253" cy="68.3" r="2.6" fill="#22c468"/>
<path d="M253 83.95L255.85 88.94L250.15 88.94Z" fill="#22c468"/>
<path d="M253 95.8L256 98.8L253 101.8L250 98.8Z" fill="#22c468"/>
<path d="M250.6 126.3H255.4M253 123.9V128.7" stroke="#22c468" stroke-width="1.05" fill="none"/>
<path d="M258.6 88.35L261.45 83.36L255.75 83.36Z" fill="#ec6fdc"/>
<circle cx="258.6" cy="86.8" r="2.6" fill="#ec6fdc"/>
<rect x="256.3" y="103" width="4.6" height="4.6" fill="#ec6fdc"/>
<circle cx="264" cy="90.4" r="2.6" fill="#2457f0"/>
<path d="M264 110.55L266.85 105.56L261.15 105.56Z" fill="#2457f0"/>
<rect x="261.7" y="113.2" width="4.6" height="4.6" fill="#2457f0"/>
<circle cx="264" cy="116.7" r="2.6" fill="#2457f0"/>
<path d="M261.6 131.6H266.4M264 129.2V134" stroke="#2457f0" stroke-width="1.05" fill="none"/>
<rect x="267.1" y="101" width="4.6" height="4.6" fill="#f79b58"/>
<circle cx="269.4" cy="115.7" r="2.6" fill="#f79b58"/>
<path d="M267 124.7H271.8M269.4 122.3V127.1" stroke="#f79b58" stroke-width="1.05" fill="none"/>
<circle cx="277" cy="64.9" r="2.6" fill="#22c468"/>
<path d="M277 80.55L279.85 85.54L274.15 85.54Z" fill="#22c468"/>
<path d="M277 91.4L280 94.4L277 97.4L274 94.4Z" fill="#22c468"/>
<path d="M274.6 114.7H279.4M277 112.3V117.1" stroke="#22c468" stroke-width="1.05" fill="none"/>
<circle cx="282.6" cy="81.4" r="2.6" fill="#ec6fdc"/>
<rect x="280.3" y="97.5" width="4.6" height="4.6" fill="#ec6fdc"/>
<circle cx="288" cy="85.4" r="2.6" fill="#2457f0"/>
<path d="M288 105.55L290.85 100.56L285.15 100.56Z" fill="#2457f0"/>
<rect x="285.7" y="107.4" width="4.6" height="4.6" fill="#2457f0"/>
<circle cx="288" cy="113.7" r="2.6" fill="#2457f0"/>
<path d="M285.6 121.7H290.4M288 119.3V124.1" stroke="#2457f0" stroke-width="1.05" fill="none"/>
<rect x="291.1" y="96.5" width="4.6" height="4.6" fill="#f79b58"/>
<circle cx="293.4" cy="109.7" r="2.6" fill="#f79b58"/>
<path d="M291 113.7H295.8M293.4 111.3V116.1" stroke="#f79b58" stroke-width="1.05" fill="none"/>
<circle cx="301" cy="60.3" r="2.6" fill="#22c468"/>
<path d="M301 75.95L303.85 80.94L298.15 80.94Z" fill="#22c468"/>
<path d="M301 86.8L304 89.8L301 92.8L298 89.8Z" fill="#22c468"/>
<path d="M301 94.85L303.85 89.86L298.15 89.86Z" fill="#22c468"/>
<path d="M298.6 104.1H303.4M301 101.7V106.5" stroke="#22c468" stroke-width="1.05" fill="none"/>
<circle cx="306.6" cy="71.3" r="2.6" fill="#ec6fdc"/>
<path d="M306.6 81.65L309.45 76.66L303.75 76.66Z" fill="#ec6fdc"/>
<rect x="304.3" y="94.1" width="4.6" height="4.6" fill="#ec6fdc"/>
<circle cx="312" cy="79.8" r="2.6" fill="#2457f0"/>
<path d="M312 100.25L314.85 95.26L309.15 95.26Z" fill="#2457f0"/>
<rect x="309.7" y="103" width="4.6" height="4.6" fill="#2457f0"/>
<circle cx="312" cy="107.7" r="2.6" fill="#2457f0"/>
<path d="M309.6 113.3H314.4M312 110.9V115.7" stroke="#2457f0" stroke-width="1.05" fill="none"/>
<rect x="315.1" y="91.1" width="4.6" height="4.6" fill="#f79b58"/>
<circle cx="317.4" cy="101.8" r="2.6" fill="#f79b58"/>
<circle cx="325" cy="57.8" r="2.6" fill="#22c468"/>
<path d="M325 74.95L327.85 79.94L322.15 79.94Z" fill="#22c468"/>
<path d="M325 82.7L328 85.7L325 88.7L322 85.7Z" fill="#22c468"/>
<path d="M322.6 94.7H327.4M325 92.3V97.1" stroke="#22c468" stroke-width="1.05" fill="none"/>
<circle cx="330.6" cy="57.8" r="2.6" fill="#ec6fdc"/>
<path d="M330.6 73.25L333.45 68.26L327.75 68.26Z" fill="#ec6fdc"/>
<circle cx="336" cy="68.8" r="2.6" fill="#2457f0"/>
<path d="M336 93.55L338.85 88.56L333.15 88.56Z" fill="#2457f0"/>
<rect x="333.7" y="96.7" width="4.6" height="4.6" fill="#2457f0"/>
<circle cx="336" cy="100.7" r="2.6" fill="#2457f0"/>
<path d="M333.6 105.7H338.4M336 103.3V108.1" stroke="#2457f0" stroke-width="1.05" fill="none"/>
<rect x="339.1" y="88.4" width="4.6" height="4.6" fill="#f79b58"/>
<circle cx="341.4" cy="95.7" r="2.6" fill="#f79b58"/>
<circle cx="349" cy="58.8" r="2.6" fill="#22c468"/>
<path d="M349 72.95L351.85 77.94L346.15 77.94Z" fill="#22c468"/>
<path d="M349 75.8L352 78.8L349 81.8L346 78.8Z" fill="#22c468"/>
<path d="M346.6 81.8H351.4M349 79.4V84.2" stroke="#22c468" stroke-width="1.05" fill="none"/>
<circle cx="354.6" cy="44.5" r="2.6" fill="#ec6fdc"/>
<path d="M354.6 58.35L357.45 53.36L351.75 53.36Z" fill="#ec6fdc"/>
<circle cx="360" cy="59.4" r="2.6" fill="#2457f0"/>
<path d="M360 82.25L362.85 77.26L357.15 77.26Z" fill="#2457f0"/>
<rect x="357.7" y="89.4" width="4.6" height="4.6" fill="#2457f0"/>
<circle cx="360" cy="94.7" r="2.6" fill="#2457f0"/>
<rect x="363.1" y="78.5" width="4.6" height="4.6" fill="#f79b58"/>
<circle cx="365.4" cy="86.7" r="2.6" fill="#f79b58"/>
<path d="M419.6 7.55L422.45 12.54L416.75 12.54Z" fill="#22c468"/>
<circle cx="419.6" cy="25.9" r="2.6" fill="#22c468"/>
<rect x="417.3" y="47.5" width="4.6" height="4.6" fill="#22c468"/>
<path d="M419.6 54.8L422.6 57.8L419.6 60.8L416.6 57.8Z" fill="#22c468"/>
<path d="M417.2 88.5H422M419.6 86.1V90.9" stroke="#22c468" stroke-width="1.05" fill="none"/>
<circle cx="424.3" cy="40.4" r="2.6" fill="#ec6fdc"/>
<path d="M424.3 55.65L427.15 50.66L421.45 50.66Z" fill="#ec6fdc"/>
<rect x="422" y="85.7" width="4.6" height="4.6" fill="#ec6fdc"/>
<path d="M421.9 124.8H426.7M424.3 122.4V127.2" stroke="#ec6fdc" stroke-width="1.05" fill="none"/>
<path d="M429 40.95L431.85 45.94L426.15 45.94Z" fill="#2457f0"/>
<circle cx="429" cy="48.4" r="2.6" fill="#2457f0"/>
<path d="M429 50.8L432 53.8L429 56.8L426 53.8Z" fill="#2457f0"/>
<path d="M429 71.55L431.85 66.56L426.15 66.56Z" fill="#2457f0"/>
<path d="M426.6 106.9H431.4M429 104.5V109.3" stroke="#2457f0" stroke-width="1.05" fill="none"/>
<path d="M433.6 62.85L436.45 67.84L430.75 67.84Z" fill="#f0141c"/>
<path d="M433.6 84.5L436.6 87.5L433.6 90.5L430.6 87.5Z" fill="#f0141c"/>
<rect x="431.3" y="91.7" width="4.6" height="4.6" fill="#f0141c"/>
<path d="M431.2 102.4H436M433.6 100V104.8" stroke="#f0141c" stroke-width="1.05" fill="none"/>
<rect x="435.8" y="28.6" width="4.6" height="4.6" fill="#f79b58"/>
<circle cx="438.1" cy="75.1" r="2.6" fill="#f79b58"/>
<path d="M435.7 87.5H440.5M438.1 85.1V89.9" stroke="#f79b58" stroke-width="1.05" fill="none"/>
<path d="M443.6 7.55L446.45 12.54L440.75 12.54Z" fill="#22c468"/>
<circle cx="443.6" cy="25.5" r="2.6" fill="#22c468"/>
<rect x="441.3" y="46.1" width="4.6" height="4.6" fill="#22c468"/>
<path d="M443.6 53.8L446.6 56.8L443.6 59.8L440.6 56.8Z" fill="#22c468"/>
<path d="M441.2 86H446M443.6 83.6V88.4" stroke="#22c468" stroke-width="1.05" fill="none"/>
<circle cx="448.3" cy="36.5" r="2.6" fill="#ec6fdc"/>
<path d="M448.3 55.25L451.15 50.26L445.45 50.26Z" fill="#ec6fdc"/>
<rect x="446" y="82.7" width="4.6" height="4.6" fill="#ec6fdc"/>
<path d="M445.9 121.8H450.7M448.3 119.4V124.2" stroke="#ec6fdc" stroke-width="1.05" fill="none"/>
<path d="M453 40.95L455.85 45.94L450.15 45.94Z" fill="#2457f0"/>
<circle cx="453" cy="46.8" r="2.6" fill="#2457f0"/>
<path d="M453 49.2L456 52.2L453 55.2L450 52.2Z" fill="#2457f0"/>
<path d="M453 69.95L455.85 64.96L450.15 64.96Z" fill="#2457f0"/>
<path d="M450.6 102.9H455.4M453 100.5V105.3" stroke="#2457f0" stroke-width="1.05" fill="none"/>
<path d="M457.6 61.85L460.45 66.84L454.75 66.84Z" fill="#f0141c"/>
<path d="M457.6 82L460.6 85L457.6 88L454.6 85Z" fill="#f0141c"/>
<rect x="455.3" y="88.2" width="4.6" height="4.6" fill="#f0141c"/>
<path d="M455.2 98.9H460M457.6 96.5V101.3" stroke="#f0141c" stroke-width="1.05" fill="none"/>
<rect x="459.8" y="28.6" width="4.6" height="4.6" fill="#f79b58"/>
<circle cx="462.1" cy="73.3" r="2.6" fill="#f79b58"/>
<path d="M459.7 85H464.5M462.1 82.6V87.4" stroke="#f79b58" stroke-width="1.05" fill="none"/>
<path d="M467.6 6.15L470.45 11.14L464.75 11.14Z" fill="#22c468"/>
<circle cx="467.6" cy="24.9" r="2.6" fill="#22c468"/>
<rect x="465.3" y="45.1" width="4.6" height="4.6" fill="#22c468"/>
<path d="M467.6 50.4L470.6 53.4L467.6 56.4L464.6 53.4Z" fill="#22c468"/>
<path d="M465.2 81.7H470M467.6 79.3V84.1" stroke="#22c468" stroke-width="1.05" fill="none"/>
<circle cx="472.3" cy="33.9" r="2.6" fill="#ec6fdc"/>
<path d="M472.3 51.25L475.15 46.26L469.45 46.26Z" fill="#ec6fdc"/>
<rect x="470" y="79.4" width="4.6" height="4.6" fill="#ec6fdc"/>
<path d="M469.9 114.8H474.7M472.3 112.4V117.2" stroke="#ec6fdc" stroke-width="1.05" fill="none"/>
<path d="M477 39.55L479.85 44.54L474.15 44.54Z" fill="#2457f0"/>
<circle cx="477" cy="43.8" r="2.6" fill="#2457f0"/>
<path d="M477 46.8L480 49.8L477 52.8L474 49.8Z" fill="#2457f0"/>
<path d="M477 66.55L479.85 61.56L474.15 61.56Z" fill="#2457f0"/>
<path d="M474.6 96H479.4M477 93.6V98.4" stroke="#2457f0" stroke-width="1.05" fill="none"/>
<path d="M481.6 58.95L484.45 63.94L478.75 63.94Z" fill="#f0141c"/>
<path d="M481.6 78.3L484.6 81.3L481.6 84.3L478.6 81.3Z" fill="#f0141c"/>
<rect x="479.3" y="84" width="4.6" height="4.6" fill="#f0141c"/>
<path d="M479.2 91.8H484M481.6 89.4V94.2" stroke="#f0141c" stroke-width="1.05" fill="none"/>
<rect x="483.8" y="28.2" width="4.6" height="4.6" fill="#f79b58"/>
<circle cx="486.1" cy="69.7" r="2.6" fill="#f79b58"/>
<path d="M483.7 81.3H488.5M486.1 78.9V83.7" stroke="#f79b58" stroke-width="1.05" fill="none"/>
<path d="M491.6 5.15L494.45 10.14L488.75 10.14Z" fill="#22c468"/>
<circle cx="491.6" cy="23.5" r="2.6" fill="#22c468"/>
<rect x="489.3" y="43.9" width="4.6" height="4.6" fill="#22c468"/>
<path d="M491.6 49.2L494.6 52.2L491.6 55.2L488.6 52.2Z" fill="#22c468"/>
<path d="M489.2 76.1H494M491.6 73.7V78.5" stroke="#22c468" stroke-width="1.05" fill="none"/>
<circle cx="496.3" cy="30.3" r="2.6" fill="#ec6fdc"/>
<path d="M496.3 48.25L499.15 43.26L493.45 43.26Z" fill="#ec6fdc"/>
<rect x="494" y="76.4" width="4.6" height="4.6" fill="#ec6fdc"/>
<path d="M493.9 107.8H498.7M496.3 105.4V110.2" stroke="#ec6fdc" stroke-width="1.05" fill="none"/>
<path d="M501 38.35L503.85 43.34L498.15 43.34Z" fill="#2457f0"/>
<circle cx="501" cy="42" r="2.6" fill="#2457f0"/>
<path d="M501 44.2L504 47.2L501 50.2L498 47.2Z" fill="#2457f0"/>
<rect x="498.7" y="59.9" width="4.6" height="4.6" fill="#2457f0"/>
<path d="M498.6 91H503.4M501 88.6V93.4" stroke="#2457f0" stroke-width="1.05" fill="none"/>
<path d="M505.6 56.35L508.45 61.34L502.75 61.34Z" fill="#f0141c"/>
<path d="M505.6 73.3L508.6 76.3L505.6 79.3L502.6 76.3Z" fill="#f0141c"/>
<rect x="503.3" y="80" width="4.6" height="4.6" fill="#f0141c"/>
<path d="M503.2 87.3H508M505.6 84.9V89.7" stroke="#f0141c" stroke-width="1.05" fill="none"/>
<rect x="507.8" y="27" width="4.6" height="4.6" fill="#f79b58"/>
<circle cx="510.1" cy="65.3" r="2.6" fill="#f79b58"/>
<path d="M507.7 76.3H512.5M510.1 73.9V78.7" stroke="#f79b58" stroke-width="1.05" fill="none"/>
<path d="M515.6 4.15L518.45 9.14L512.75 9.14Z" fill="#22c468"/>
<circle cx="515.6" cy="23.5" r="2.6" fill="#22c468"/>
<rect x="513.3" y="40.5" width="4.6" height="4.6" fill="#22c468"/>
<path d="M515.6 45.8L518.6 48.8L515.6 51.8L512.6 48.8Z" fill="#22c468"/>
<path d="M513.2 74.7H518M515.6 72.3V77.1" stroke="#22c468" stroke-width="1.05" fill="none"/>
<circle cx="520.3" cy="28.3" r="2.6" fill="#ec6fdc"/>
<path d="M520.3 44.05L523.15 39.06L517.45 39.06Z" fill="#ec6fdc"/>
<rect x="518" y="74" width="4.6" height="4.6" fill="#ec6fdc"/>
<path d="M517.9 100.5H522.7M520.3 98.1V102.9" stroke="#ec6fdc" stroke-width="1.05" fill="none"/>
<path d="M525 35.15L527.85 40.14L522.15 40.14Z" fill="#2457f0"/>
<circle cx="525" cy="39.5" r="2.6" fill="#2457f0"/>
<path d="M525 42.8L528 45.8L525 48.8L522 45.8Z" fill="#2457f0"/>
<circle cx="525" cy="58.8" r="2.6" fill="#2457f0"/>
<path d="M522.6 90.8H527.4M525 88.4V93.2" stroke="#2457f0" stroke-width="1.05" fill="none"/>
<path d="M529.6 53.55L532.45 58.54L526.75 58.54Z" fill="#f0141c"/>
<path d="M529.6 69.7L532.6 72.7L529.6 75.7L526.6 72.7Z" fill="#f0141c"/>
<rect x="527.3" y="79" width="4.6" height="4.6" fill="#f0141c"/>
<path d="M527.2 84.9H532M529.6 82.5V87.3" stroke="#f0141c" stroke-width="1.05" fill="none"/>
<rect x="531.8" y="25.6" width="4.6" height="4.6" fill="#f79b58"/>
<circle cx="534.1" cy="64.1" r="2.6" fill="#f79b58"/>
<path d="M531.7 75.3H536.5M534.1 72.9V77.7" stroke="#f79b58" stroke-width="1.05" fill="none"/>
<path d="M539.6 3.55L542.45 8.54L536.75 8.54Z" fill="#22c468"/>
<rect x="537.3" y="18.7" width="4.6" height="4.6" fill="#22c468"/>
<circle cx="539.6" cy="23.5" r="2.6" fill="#22c468"/>
<rect x="537.3" y="40.1" width="4.6" height="4.6" fill="#22c468"/>
<path d="M537.2 69.7H542M539.6 67.3V72.1" stroke="#22c468" stroke-width="1.05" fill="none"/>
<circle cx="544.3" cy="20.3" r="2.6" fill="#ec6fdc"/>
<path d="M544.3 33.75L547.15 28.76L541.45 28.76Z" fill="#ec6fdc"/>
<rect x="542" y="69.8" width="4.6" height="4.6" fill="#ec6fdc"/>
<path d="M541.9 89.6H546.7M544.3 87.2V92" stroke="#ec6fdc" stroke-width="1.05" fill="none"/>
<path d="M549 33.15L551.85 38.14L546.15 38.14Z" fill="#2457f0"/>
<circle cx="549" cy="37.5" r="2.6" fill="#2457f0"/>
<path d="M549 39.4L552 42.4L549 45.4L546 42.4Z" fill="#2457f0"/>
<rect x="546.7" y="54.5" width="4.6" height="4.6" fill="#2457f0"/>
<path d="M546.6 81.7H551.4M549 79.3V84.1" stroke="#2457f0" stroke-width="1.05" fill="none"/>
<path d="M553.6 51.35L556.45 56.34L550.75 56.34Z" fill="#f0141c"/>
<path d="M553.6 60.7L556.6 63.7L553.6 66.7L550.6 63.7Z" fill="#f0141c"/>
<rect x="551.3" y="75.8" width="4.6" height="4.6" fill="#f0141c"/>
<path d="M551.2 73.7H556M553.6 71.3V76.1" stroke="#f0141c" stroke-width="1.05" fill="none"/>
<rect x="555.8" y="24.6" width="4.6" height="4.6" fill="#f79b58"/>
<circle cx="558.1" cy="62.2" r="2.6" fill="#f79b58"/>
<path d="M555.7 70.7H560.5M558.1 68.3V73.1" stroke="#f79b58" stroke-width="1.05" fill="none"/>
<path d="M35.5 189.7H40.3M37.9 187.3V192.1" stroke="#22c468" stroke-width="1.05" fill="none"/>
<path d="M37.9 252.25L40.75 257.24L35.05 257.24Z" fill="#22c468"/>
<rect x="35.6" y="257.6" width="4.6" height="4.6" fill="#22c468"/>
<path d="M37.9 259.3L40.9 262.3L37.9 265.3L34.9 262.3Z" fill="#22c468"/>
<path d="M37.9 268.35L40.75 263.36L35.05 263.36Z" fill="#22c468"/>
<circle cx="37.9" cy="279.5" r="2.6" fill="#22c468"/>
<circle cx="43.5" cy="270.6" r="2.6" fill="#ec6fdc"/>
<path d="M43.5 278.25L46.35 273.26L40.65 273.26Z" fill="#ec6fdc"/>
<rect x="46.6" y="253.6" width="4.6" height="4.6" fill="#2457f0"/>
<path d="M48.9 270.75L51.75 265.76L46.05 265.76Z" fill="#2457f0"/>
<circle cx="48.9" cy="272.6" r="2.6" fill="#2457f0"/>
<path d="M51.9 191.6H56.7M54.3 189.2V194" stroke="#f79b58" stroke-width="1.05" fill="none"/>
<path d="M59.5 207.1H64.3M61.9 204.7V209.5" stroke="#22c468" stroke-width="1.05" fill="none"/>
<path d="M61.9 256.25L64.75 261.24L59.05 261.24Z" fill="#22c468"/>
<rect x="59.6" y="259.2" width="4.6" height="4.6" fill="#22c468"/>
<path d="M61.9 260L64.9 263L61.9 266L58.9 263Z" fill="#22c468"/>
<path d="M61.9 268.35L64.75 263.36L59.05 263.36Z" fill="#22c468"/>
<circle cx="61.9" cy="279.5" r="2.6" fill="#22c468"/>
<circle cx="67.5" cy="273.1" r="2.6" fill="#ec6fdc"/>
<path d="M67.5 278.85L70.35 273.86L64.65 273.86Z" fill="#ec6fdc"/>
<rect x="70.6" y="255.2" width="4.6" height="4.6" fill="#2457f0"/>
<path d="M72.9 257.05L75.75 262.04L70.05 262.04Z" fill="#2457f0"/>
<path d="M72.9 270.75L75.75 265.76L70.05 265.76Z" fill="#2457f0"/>
<circle cx="72.9" cy="273.8" r="2.6" fill="#2457f0"/>
<path d="M75.9 206.2H80.7M78.3 203.8V208.6" stroke="#f79b58" stroke-width="1.05" fill="none"/>
<path d="M83.5 259.1H88.3M85.9 256.7V261.5" stroke="#22c468" stroke-width="1.05" fill="none"/>
<path d="M85.9 261.15L88.75 266.14L83.05 266.14Z" fill="#22c468"/>
<rect x="83.6" y="263.7" width="4.6" height="4.6" fill="#22c468"/>
<path d="M85.9 264.5L88.9 267.5L85.9 270.5L82.9 267.5Z" fill="#22c468"/>
<path d="M85.9 272.35L88.75 267.36L83.05 267.36Z" fill="#22c468"/>
<circle cx="85.9" cy="282.2" r="2.6" fill="#22c468"/>
<circle cx="91.5" cy="277.4" r="2.6" fill="#ec6fdc"/>
<path d="M91.5 282.85L94.35 277.86L88.65 277.86Z" fill="#ec6fdc"/>
<rect x="94.6" y="259.2" width="4.6" height="4.6" fill="#2457f0"/>
<path d="M96.9 261.85L99.75 266.84L94.05 266.84Z" fill="#2457f0"/>
<path d="M96.9 275.15L99.75 270.16L94.05 270.16Z" fill="#2457f0"/>
<circle cx="96.9" cy="278.2" r="2.6" fill="#2457f0"/>
<path d="M99.9 260.4H104.7M102.3 258V262.8" stroke="#f79b58" stroke-width="1.05" fill="none"/>
<path d="M109.9 272L112.9 275L109.9 278L106.9 275Z" fill="#22c468"/>
<rect x="107.6" y="275.7" width="4.6" height="4.6" fill="#22c468"/>
<path d="M109.9 277.15L112.75 282.14L107.05 282.14Z" fill="#22c468"/>
<circle cx="109.9" cy="283.8" r="2.6" fill="#22c468"/>
<circle cx="115.5" cy="282.2" r="2.6" fill="#ec6fdc"/>
<path d="M120.9 272.15L123.75 277.14L118.05 277.14Z" fill="#2457f0"/>
<rect x="118.6" y="275.7" width="4.6" height="4.6" fill="#2457f0"/>
<path d="M120.9 277L123.9 280L120.9 283L117.9 280Z" fill="#2457f0"/>
<circle cx="120.9" cy="283" r="2.6" fill="#2457f0"/>
<path d="M123.9 278.2H128.7M126.3 275.8V280.6" stroke="#f79b58" stroke-width="1.05" fill="none"/>
<rect x="131.6" y="278.3" width="4.6" height="4.6" fill="#22c468"/>
<path d="M133.9 280L136.9 283L133.9 286L130.9 283Z" fill="#22c468"/>
<circle cx="133.9" cy="287" r="2.6" fill="#22c468"/>
<circle cx="139.5" cy="286.2" r="2.6" fill="#ec6fdc"/>
<path d="M144.9 277.75L147.75 282.74L142.05 282.74Z" fill="#2457f0"/>
<rect x="142.6" y="280.7" width="4.6" height="4.6" fill="#2457f0"/>
<circle cx="144.9" cy="287" r="2.6" fill="#2457f0"/>
<path d="M147.9 282.7H152.7M150.3 280.3V285.1" stroke="#f79b58" stroke-width="1.05" fill="none"/>
<rect x="155.6" y="279.1" width="4.6" height="4.6" fill="#22c468"/>
<path d="M157.9 281L160.9 284L157.9 287L154.9 284Z" fill="#22c468"/>
<circle cx="157.9" cy="287.8" r="2.6" fill="#22c468"/>
<circle cx="163.5" cy="287.8" r="2.6" fill="#ec6fdc"/>
<rect x="166.6" y="279.9" width="4.6" height="4.6" fill="#2457f0"/>
<path d="M168.9 282L171.9 285L168.9 288L165.9 285Z" fill="#2457f0"/>
<circle cx="168.9" cy="287" r="2.6" fill="#2457f0"/>
<path d="M171.9 283.8H176.7M174.3 281.4V286.2" stroke="#f79b58" stroke-width="1.05" fill="none"/>
<path d="M226.6 217.5H231.4M229 215.1V219.9" stroke="#22c468" stroke-width="1.05" fill="none"/>
<path d="M237.6 205.4H242.4M240 203V207.8" stroke="#2457f0" stroke-width="1.05" fill="none"/>
<path d="M243 231.9H247.8M245.4 229.5V234.3" stroke="#f79b58" stroke-width="1.05" fill="none"/>
<rect x="237.7" y="264.4" width="4.6" height="4.6" fill="#2457f0"/>
<path d="M240 265.85L242.85 270.84L237.15 270.84Z" fill="#2457f0"/>
<circle cx="245.4" cy="264.7" r="2.6" fill="#f79b58"/>
<rect x="232.3" y="268.4" width="4.6" height="4.6" fill="#ec6fdc"/>
<rect x="226.7" y="271.8" width="4.6" height="4.6" fill="#22c468"/>
<path d="M240 272L243 275L240 278L237 275Z" fill="#2457f0"/>
<circle cx="240" cy="280.7" r="2.6" fill="#2457f0"/>
<rect x="243.1" y="273" width="4.6" height="4.6" fill="#f79b58"/>
<path d="M229 276.85L231.85 281.84L226.15 281.84Z" fill="#22c468"/>
<path d="M229 285.85L231.85 280.86L226.15 280.86Z" fill="#22c468"/>
<circle cx="229" cy="285.7" r="2.6" fill="#22c468"/>
<circle cx="234.6" cy="281.7" r="2.6" fill="#ec6fdc"/>
<path d="M234.6 288.55L237.45 283.56L231.75 283.56Z" fill="#ec6fdc"/>
<path d="M250.6 225.9H255.4M253 223.5V228.3" stroke="#22c468" stroke-width="1.05" fill="none"/>
<path d="M261.6 214.9H266.4M264 212.5V217.3" stroke="#2457f0" stroke-width="1.05" fill="none"/>
<path d="M267 236.9H271.8M269.4 234.5V239.3" stroke="#f79b58" stroke-width="1.05" fill="none"/>
<circle cx="269.4" cy="264.7" r="2.6" fill="#f79b58"/>
<rect x="261.7" y="265" width="4.6" height="4.6" fill="#2457f0"/>
<rect x="256.3" y="269" width="4.6" height="4.6" fill="#ec6fdc"/>
<rect x="250.7" y="273" width="4.6" height="4.6" fill="#22c468"/>
<path d="M264 272L267 275L264 278L261 275Z" fill="#2457f0"/>
<circle cx="264" cy="280.7" r="2.6" fill="#2457f0"/>
<rect x="267.1" y="273.4" width="4.6" height="4.6" fill="#f79b58"/>
<path d="M253 284.55L255.85 279.56L250.15 279.56Z" fill="#22c468"/>
<circle cx="253" cy="286.7" r="2.6" fill="#22c468"/>
<circle cx="258.6" cy="282.7" r="2.6" fill="#ec6fdc"/>
<path d="M285.6 249.8H290.4M288 247.4V252.2" stroke="#2457f0" stroke-width="1.05" fill="none"/>
<path d="M274.6 264.1H279.4M277 261.7V266.5" stroke="#22c468" stroke-width="1.05" fill="none"/>
<circle cx="293.4" cy="271.3" r="2.6" fill="#f79b58"/>
<rect x="285.7" y="266.4" width="4.6" height="4.6" fill="#2457f0"/>
<rect x="280.3" y="270.4" width="4.6" height="4.6" fill="#ec6fdc"/>
<rect x="274.7" y="273" width="4.6" height="4.6" fill="#22c468"/>
<rect x="291.1" y="275" width="4.6" height="4.6" fill="#f79b58"/>
<path d="M288 273.7L291 276.7L288 279.7L285 276.7Z" fill="#2457f0"/>
<path d="M277 284.85L279.85 279.86L274.15 279.86Z" fill="#22c468"/>
<circle cx="277" cy="287.6" r="2.6" fill="#22c468"/>
<circle cx="282.6" cy="287.6" r="2.6" fill="#ec6fdc"/>
<circle cx="288" cy="286.7" r="2.6" fill="#2457f0"/>
<rect x="298.7" y="275.9" width="4.6" height="4.6" fill="#22c468"/>
<path d="M301 280L304 283L301 286L298 283Z" fill="#22c468"/>
<circle cx="301" cy="288.8" r="2.6" fill="#22c468"/>
<rect x="304.3" y="275.9" width="4.6" height="4.6" fill="#ec6fdc"/>
<circle cx="306.6" cy="290.7" r="2.6" fill="#ec6fdc"/>
<path d="M312 271.55L314.85 276.54L309.15 276.54Z" fill="#2457f0"/>
<rect x="309.7" y="274.7" width="4.6" height="4.6" fill="#2457f0"/>
<path d="M312 279L315 282L312 285L309 282Z" fill="#2457f0"/>
<circle cx="312" cy="288.2" r="2.6" fill="#2457f0"/>
<circle cx="317.4" cy="276.3" r="2.6" fill="#f79b58"/>
<rect x="315.1" y="276.7" width="4.6" height="4.6" fill="#f79b58"/>
<circle cx="317.4" cy="282.5" r="2.6" fill="#f79b58"/>
<rect x="322.7" y="278.4" width="4.6" height="4.6" fill="#22c468"/>
<path d="M325 281.5L328 284.5L325 287.5L322 284.5Z" fill="#22c468"/>
<circle cx="325" cy="288.8" r="2.6" fill="#22c468"/>
<rect x="328.3" y="279.2" width="4.6" height="4.6" fill="#ec6fdc"/>
<circle cx="330.6" cy="292.6" r="2.6" fill="#ec6fdc"/>
<rect x="333.7" y="277.7" width="4.6" height="4.6" fill="#2457f0"/>
<path d="M336 282L339 285L336 288L333 285Z" fill="#2457f0"/>
<circle cx="336" cy="290.7" r="2.6" fill="#2457f0"/>
<circle cx="341.4" cy="282.5" r="2.6" fill="#f79b58"/>
<rect x="339.1" y="282.7" width="4.6" height="4.6" fill="#f79b58"/>
<rect x="346.7" y="279.6" width="4.6" height="4.6" fill="#22c468"/>
<path d="M349 282.5L352 285.5L349 288.5L346 285.5Z" fill="#22c468"/>
<circle cx="349" cy="289.4" r="2.6" fill="#22c468"/>
<rect x="352.3" y="279.6" width="4.6" height="4.6" fill="#ec6fdc"/>
<circle cx="354.6" cy="292.6" r="2.6" fill="#ec6fdc"/>
<rect x="357.7" y="278.4" width="4.6" height="4.6" fill="#2457f0"/>
<path d="M360 282.5L363 285.5L360 288.5L357 285.5Z" fill="#2457f0"/>
<circle cx="360" cy="290.7" r="2.6" fill="#2457f0"/>
<circle cx="365.4" cy="283.2" r="2.6" fill="#f79b58"/>
<rect x="363.1" y="284" width="4.6" height="4.6" fill="#f79b58"/>
<path d="M417.5 286.2H561.3" stroke="#000" stroke-width="1.6" stroke-dasharray="5.2 3.2"/>
<path d="M421.9 258.6H426.7M424.3 256.2V261" stroke="#ec6fdc" stroke-width="1.05" fill="none"/>
<path d="M426.6 277.9H431.4M429 275.5V280.3" stroke="#2457f0" stroke-width="1.05" fill="none"/>
<path d="M419.6 277.15L422.45 282.14L416.75 282.14Z" fill="#22c468"/>
<rect x="417.3" y="281.7" width="4.6" height="4.6" fill="#22c468"/>
<path d="M419.6 285L422.6 288L419.6 291L416.6 288Z" fill="#22c468"/>
<rect x="417.3" y="288.7" width="4.6" height="4.6" fill="#22c468"/>
<circle cx="419.6" cy="294.6" r="2.6" fill="#22c468"/>
<rect x="422" y="281.2" width="4.6" height="4.6" fill="#ec6fdc"/>
<circle cx="424.3" cy="295.5" r="2.6" fill="#ec6fdc"/>
<rect x="426.7" y="282.7" width="4.6" height="4.6" fill="#2457f0"/>
<path d="M429 285.5L432 288.5L429 291.5L426 288.5Z" fill="#2457f0"/>
<circle cx="429" cy="292.5" r="2.6" fill="#2457f0"/>
<rect x="431.3" y="276.3" width="4.6" height="4.6" fill="#f0141c"/>
<path d="M433.6 278.15L436.45 283.14L430.75 283.14Z" fill="#f0141c"/>
<rect x="431.3" y="285.4" width="4.6" height="4.6" fill="#f0141c"/>
<rect x="435.8" y="284" width="4.6" height="4.6" fill="#f79b58"/>
<rect x="435.8" y="287.2" width="4.6" height="4.6" fill="#f79b58"/>
<rect x="435.8" y="289.5" width="4.6" height="4.6" fill="#f79b58"/>
<path d="M435.7 282.4H440.5M438.1 280V284.8" stroke="#f79b58" stroke-width="1.05" fill="none"/>
<path d="M445.9 260.5H450.7M448.3 258.1V262.9" stroke="#ec6fdc" stroke-width="1.05" fill="none"/>
<path d="M450.6 278.6H455.4M453 276.2V281" stroke="#2457f0" stroke-width="1.05" fill="none"/>
<path d="M443.6 277.15L446.45 282.14L440.75 282.14Z" fill="#22c468"/>
<rect x="441.3" y="281.7" width="4.6" height="4.6" fill="#22c468"/>
<path d="M443.6 285L446.6 288L443.6 291L440.6 288Z" fill="#22c468"/>
<rect x="441.3" y="288.7" width="4.6" height="4.6" fill="#22c468"/>
<circle cx="443.6" cy="294.6" r="2.6" fill="#22c468"/>
<rect x="446" y="281.2" width="4.6" height="4.6" fill="#ec6fdc"/>
<circle cx="448.3" cy="295.5" r="2.6" fill="#ec6fdc"/>
<rect x="450.7" y="282.7" width="4.6" height="4.6" fill="#2457f0"/>
<path d="M453 285.5L456 288.5L453 291.5L450 288.5Z" fill="#2457f0"/>
<circle cx="453" cy="292.5" r="2.6" fill="#2457f0"/>
<rect x="455.3" y="276.3" width="4.6" height="4.6" fill="#f0141c"/>
<path d="M457.6 278.15L460.45 283.14L454.75 283.14Z" fill="#f0141c"/>
<rect x="455.3" y="285.4" width="4.6" height="4.6" fill="#f0141c"/>
<rect x="459.8" y="284" width="4.6" height="4.6" fill="#f79b58"/>
<rect x="459.8" y="287.2" width="4.6" height="4.6" fill="#f79b58"/>
<rect x="459.8" y="289.5" width="4.6" height="4.6" fill="#f79b58"/>
<path d="M459.7 282.4H464.5M462.1 280V284.8" stroke="#f79b58" stroke-width="1.05" fill="none"/>
<path d="M469.9 261.2H474.7M472.3 258.8V263.6" stroke="#ec6fdc" stroke-width="1.05" fill="none"/>
<path d="M474.6 277.9H479.4M477 275.5V280.3" stroke="#2457f0" stroke-width="1.05" fill="none"/>
<path d="M467.6 277.15L470.45 282.14L464.75 282.14Z" fill="#22c468"/>
<rect x="465.3" y="281.7" width="4.6" height="4.6" fill="#22c468"/>
<path d="M467.6 285L470.6 288L467.6 291L464.6 288Z" fill="#22c468"/>
<rect x="465.3" y="288.7" width="4.6" height="4.6" fill="#22c468"/>
<circle cx="467.6" cy="294.6" r="2.6" fill="#22c468"/>
<rect x="470" y="281.2" width="4.6" height="4.6" fill="#ec6fdc"/>
<circle cx="472.3" cy="295.5" r="2.6" fill="#ec6fdc"/>
<rect x="474.7" y="282.7" width="4.6" height="4.6" fill="#2457f0"/>
<path d="M477 285.5L480 288.5L477 291.5L474 288.5Z" fill="#2457f0"/>
<circle cx="477" cy="292.5" r="2.6" fill="#2457f0"/>
<rect x="479.3" y="276.3" width="4.6" height="4.6" fill="#f0141c"/>
<path d="M481.6 278.15L484.45 283.14L478.75 283.14Z" fill="#f0141c"/>
<rect x="479.3" y="285.4" width="4.6" height="4.6" fill="#f0141c"/>
<rect x="483.8" y="284" width="4.6" height="4.6" fill="#f79b58"/>
<rect x="483.8" y="287.2" width="4.6" height="4.6" fill="#f79b58"/>
<rect x="483.8" y="289.5" width="4.6" height="4.6" fill="#f79b58"/>
<path d="M483.7 282.4H488.5M486.1 280V284.8" stroke="#f79b58" stroke-width="1.05" fill="none"/>
<path d="M493.9 277.7H498.7M496.3 275.3V280.1" stroke="#ec6fdc" stroke-width="1.05" fill="none"/>
<path d="M498.6 280.6H503.4M501 278.2V283" stroke="#2457f0" stroke-width="1.05" fill="none"/>
<path d="M491.6 278.65L494.45 283.64L488.75 283.64Z" fill="#22c468"/>
<rect x="489.3" y="283.2" width="4.6" height="4.6" fill="#22c468"/>
<path d="M491.6 286.5L494.6 289.5L491.6 292.5L488.6 289.5Z" fill="#22c468"/>
<rect x="489.3" y="289.45" width="4.6" height="4.6" fill="#22c468"/>
<circle cx="491.6" cy="294.6" r="2.6" fill="#22c468"/>
<rect x="494" y="282.1" width="4.6" height="4.6" fill="#ec6fdc"/>
<circle cx="496.3" cy="295.5" r="2.6" fill="#ec6fdc"/>
<rect x="498.7" y="283.15" width="4.6" height="4.6" fill="#2457f0"/>
<path d="M501 285.5L504 288.5L501 291.5L498 288.5Z" fill="#2457f0"/>
<circle cx="501" cy="292.5" r="2.6" fill="#2457f0"/>
<rect x="503.3" y="278.7" width="4.6" height="4.6" fill="#f0141c"/>
<path d="M505.6 279.65L508.45 284.64L502.75 284.64Z" fill="#f0141c"/>
<rect x="503.3" y="285.4" width="4.6" height="4.6" fill="#f0141c"/>
<rect x="507.8" y="284.45" width="4.6" height="4.6" fill="#f79b58"/>
<rect x="507.8" y="287.2" width="4.6" height="4.6" fill="#f79b58"/>
<rect x="507.8" y="289.5" width="4.6" height="4.6" fill="#f79b58"/>
<path d="M517.9 281.4H522.7M520.3 279V283.8" stroke="#ec6fdc" stroke-width="1.05" fill="none"/>
<path d="M515.6 280.15L518.45 285.14L512.75 285.14Z" fill="#22c468"/>
<rect x="513.3" y="284.7" width="4.6" height="4.6" fill="#22c468"/>
<path d="M515.6 288L518.6 291L515.6 294L512.6 291Z" fill="#22c468"/>
<rect x="513.3" y="290.2" width="4.6" height="4.6" fill="#22c468"/>
<circle cx="515.6" cy="294.6" r="2.6" fill="#22c468"/>
<rect x="518" y="283" width="4.6" height="4.6" fill="#ec6fdc"/>
<circle cx="520.3" cy="295.5" r="2.6" fill="#ec6fdc"/>
<rect x="522.7" y="283.6" width="4.6" height="4.6" fill="#2457f0"/>
<path d="M525 285.5L528 288.5L525 291.5L522 288.5Z" fill="#2457f0"/>
<circle cx="525" cy="292.5" r="2.6" fill="#2457f0"/>
<rect x="527.3" y="281.1" width="4.6" height="4.6" fill="#f0141c"/>
<path d="M529.6 281.15L532.45 286.14L526.75 286.14Z" fill="#f0141c"/>
<rect x="527.3" y="285.4" width="4.6" height="4.6" fill="#f0141c"/>
<rect x="531.8" y="284.9" width="4.6" height="4.6" fill="#f79b58"/>
<rect x="531.8" y="287.2" width="4.6" height="4.6" fill="#f79b58"/>
<rect x="531.8" y="289.5" width="4.6" height="4.6" fill="#f79b58"/>
<path d="M541.9 283.2H546.7M544.3 280.8V285.6" stroke="#ec6fdc" stroke-width="1.05" fill="none"/>
<path d="M539.6 280.65L542.45 285.64L536.75 285.64Z" fill="#22c468"/>
<rect x="537.3" y="285.2" width="4.6" height="4.6" fill="#22c468"/>
<path d="M539.6 288.5L542.6 291.5L539.6 294.5L536.6 291.5Z" fill="#22c468"/>
<rect x="537.3" y="290.45" width="4.6" height="4.6" fill="#22c468"/>
<circle cx="539.6" cy="294.6" r="2.6" fill="#22c468"/>
<rect x="542" y="283.3" width="4.6" height="4.6" fill="#ec6fdc"/>
<circle cx="544.3" cy="295.5" r="2.6" fill="#ec6fdc"/>
<rect x="546.7" y="283.75" width="4.6" height="4.6" fill="#2457f0"/>
<path d="M549 285.5L552 288.5L549 291.5L546 288.5Z" fill="#2457f0"/>
<circle cx="549" cy="292.5" r="2.6" fill="#2457f0"/>
<rect x="551.3" y="281.9" width="4.6" height="4.6" fill="#f0141c"/>
<path d="M553.6 281.65L556.45 286.64L550.75 286.64Z" fill="#f0141c"/>
<rect x="551.3" y="285.4" width="4.6" height="4.6" fill="#f0141c"/>
<rect x="555.8" y="285.05" width="4.6" height="4.6" fill="#f79b58"/>
<rect x="555.8" y="287.2" width="4.6" height="4.6" fill="#f79b58"/>
<rect x="555.8" y="289.5" width="4.6" height="4.6" fill="#f79b58"/>
<rect x="178.5" y="74" width="3.3" height="36.2" fill="#ff3fd6"/>
<rect x="180.6" y="77.2" width="3.3" height="55.8" fill="#15c94d"/>
<rect x="183" y="80.4" width="3.2" height="46.6" fill="#0a28ff"/>
<rect x="185" y="85.6" width="3.3" height="48.5" fill="#ff9a40"/>
<rect x="370.8" y="40.2" width="2.6" height="69.4" fill="#ff3fd6"/>
<rect x="372.9" y="54" width="2.7" height="75.5" fill="#15c94d"/>
<rect x="375" y="56.3" width="3.9" height="78.4" fill="#0a28ff"/>
<rect x="377.3" y="78.5" width="3.6" height="49" fill="#ff9a40"/>
<rect x="561.4" y="19.1" width="3.2" height="104.6" fill="#ff3fd6"/>
<rect x="563.7" y="19.1" width="3.5" height="62.8" fill="#15c94d"/>
<rect x="565.8" y="33" width="4" height="68.8" fill="#0a28ff"/>
<rect x="568" y="51.3" width="3" height="46.5" fill="#ff0a0a"/>
<rect x="570.1" y="25.2" width="4" height="61.7" fill="#ff9a40"/>
<path d="M34.3 480.4L82.4 459.08L106.45 431.61L122.32 413.57L130.5 404.34L154.55 376.88L178.6 345.92L178.6 399.22L154.55 424.64L130.5 442.47L122.32 448.62L106.45 460.51L82.4 478.35L34.3 480.4Z" fill="#f9d3c8"/>
<path d="M34.3 480.4L82.4 460.31L106.45 433.66L122.32 416.03L130.5 407.01L154.55 380.36L178.6 350.22L178.6 398.4L154.55 423.41L130.5 441.45L122.32 447.6L106.45 459.69L82.4 477.73L34.3 480.4Z" fill="#f5b6a4"/>
<path d="M34.3 480.4L82.4 461.54L106.45 435.71L122.32 418.69L130.5 409.88L154.55 384.05L178.6 354.32L178.6 397.38L154.55 421.97L130.5 440.22L122.32 446.57L106.45 458.67L82.4 476.91L34.3 480.4Z" fill="#f29d87"/>
<path d="M34.3 480.4L82.4 464L106.45 441.45L122.32 426.48L130.5 418.9L154.55 396.35L178.6 364.99L178.6 394.71L154.55 421.56L130.5 439.81L122.32 445.96L106.45 458.05L82.4 476.3L34.3 480.4Z" fill="#eb6548"/>
<path d="M34.3 480.4L82.4 466.05L106.45 443.5L122.32 428.53L130.5 420.95L154.55 398.4L178.6 370.72L178.6 390.2L154.55 416.85L130.5 436.12L122.32 442.68L106.45 455.39L82.4 474.66L34.3 480.4Z" fill="#e9583c"/>
<path d="M34.3 480.4L82.4 469.33L106.45 449.65L122.32 435.71L130.5 428.74L154.55 401.88L178.6 377.9" stroke="#fff" stroke-width="1.5" stroke-dasharray="2.8 2.4" fill="none"/>
<path d="M34.3 436.32H178.6" stroke="#cfcfcf" stroke-width="0.9"/>
<path d="M122.5 336.9V480.4" stroke="#444" stroke-width="1.2" stroke-dasharray="2 2.4"/>
<circle cx="122.5" cy="436.32" r="2.6" fill="#fff" stroke="#222" stroke-width="1"/>
<path d="M34.3 480.4V484.2" stroke="#555" stroke-width="1"/>
<text x="34.3" y="491.6" font-size="7" text-anchor="middle" fill="#2a2a2a" class="t">0</text>
<path d="M58.35 480.4V484.2" stroke="#555" stroke-width="1"/>
<text x="58.35" y="491.6" font-size="7" text-anchor="middle" fill="#2a2a2a" class="t">10</text>
<path d="M82.4 480.4V484.2" stroke="#555" stroke-width="1"/>
<text x="82.4" y="491.6" font-size="7" text-anchor="middle" fill="#2a2a2a" class="t">20</text>
<path d="M106.45 480.4V484.2" stroke="#555" stroke-width="1"/>
<text x="106.45" y="491.6" font-size="7" text-anchor="middle" fill="#2a2a2a" class="t">30</text>
<path d="M130.5 480.4V484.2" stroke="#555" stroke-width="1"/>
<text x="130.5" y="491.6" font-size="7" text-anchor="middle" fill="#2a2a2a" class="t">40</text>
<path d="M154.55 480.4V484.2" stroke="#555" stroke-width="1"/>
<text x="154.55" y="491.6" font-size="7" text-anchor="middle" fill="#2a2a2a" class="t">50</text>
<path d="M178.6 480.4V484.2" stroke="#555" stroke-width="1"/>
<text x="178.6" y="491.6" font-size="7" text-anchor="middle" fill="#2a2a2a" class="t">60</text>
<text x="105.8" y="497.8" font-size="7.3" text-anchor="middle" fill="#2a2a2a" class="t">Assumed lifetime (years)</text>
<path d="M227.2 480.4L251.27 471.58L275.33 461.75L299.4 449.65L318.41 433.86L350.66 410.7L371.6 382L371.6 415L350.66 433.66L318.41 449.03L299.4 458.88L275.33 468.51L251.27 476.91L227.2 480.4Z" fill="#f9d3c8"/>
<path d="M227.2 480.4L251.27 472L275.33 462.36L299.4 450.06L318.41 435.09L350.66 412.13L371.6 382.82L371.6 413.77L350.66 433.04L318.41 448.21L299.4 458.26L275.33 468.1L251.27 476.5L227.2 480.4Z" fill="#f5b6a4"/>
<path d="M227.2 480.4L251.27 472.4L275.33 462.77L299.4 450.67L318.41 436.32L350.66 413.57L371.6 383.64L371.6 412.75L350.66 432.22L318.41 447.19L299.4 457.64L275.33 467.69L251.27 476.09L227.2 480.4Z" fill="#f29d87"/>
<path d="M227.2 480.4L251.27 472.81L275.33 463.38L299.4 451.5L318.41 437.96L350.66 415.21L371.6 385.07L371.6 411.31L350.66 431.2L318.41 446.16L299.4 457.03L275.33 467.28L251.27 475.48L227.2 480.4Z" fill="#eb6548"/>
<path d="M227.2 480.4L251.27 473.22L275.33 464L299.4 452.31L318.41 439.4L350.66 416.85L371.6 387.12L371.6 409.67L350.66 429.97L318.41 445.14L299.4 456.21L275.33 466.66L251.27 474.86L227.2 480.4Z" fill="#e9583c"/>
<path d="M227.2 480.4L251.27 474.04L275.33 465.44L299.4 454.57L318.41 442.27L350.66 421.77L371.6 396.35" stroke="#fff" stroke-width="1.5" stroke-dasharray="2.8 2.4" fill="none"/>
<path d="M227.2 442.68H371.6" stroke="#cfcfcf" stroke-width="0.9"/>
<path d="M316 336.9V480.4" stroke="#444" stroke-width="1.2" stroke-dasharray="2 2.4"/>
<circle cx="316" cy="442.68" r="2.6" fill="#fff" stroke="#222" stroke-width="1"/>
<path d="M227.2 480.4V484.2" stroke="#555" stroke-width="1"/>
<text x="227.2" y="491.6" font-size="7" text-anchor="middle" fill="#2a2a2a" class="t">0</text>
<path d="M251.27 480.4V484.2" stroke="#555" stroke-width="1"/>
<text x="251.27" y="491.6" font-size="7" text-anchor="middle" fill="#2a2a2a" class="t">10</text>
<path d="M275.33 480.4V484.2" stroke="#555" stroke-width="1"/>
<text x="275.33" y="491.6" font-size="7" text-anchor="middle" fill="#2a2a2a" class="t">20</text>
<path d="M299.4 480.4V484.2" stroke="#555" stroke-width="1"/>
<text x="299.4" y="491.6" font-size="7" text-anchor="middle" fill="#2a2a2a" class="t">30</text>
<path d="M323.47 480.4V484.2" stroke="#555" stroke-width="1"/>
<text x="323.47" y="491.6" font-size="7" text-anchor="middle" fill="#2a2a2a" class="t">40</text>
<path d="M347.53 480.4V484.2" stroke="#555" stroke-width="1"/>
<text x="347.53" y="491.6" font-size="7" text-anchor="middle" fill="#2a2a2a" class="t">50</text>
<path d="M371.6 480.4V484.2" stroke="#555" stroke-width="1"/>
<text x="371.6" y="491.6" font-size="7" text-anchor="middle" fill="#2a2a2a" class="t">60</text>
<text x="298.7" y="497.8" font-size="7.3" text-anchor="middle" fill="#2a2a2a" class="t">Assumed lifetime (years)</text>
<path d="M420.1 480.4L444.22 475.48L468.33 469.33L492.45 459.08L509.09 448.01L540.68 437.96L564.8 420.13L564.8 459.08L540.68 466.46L509.09 472.4L492.45 475.48L468.33 477.73L444.22 479.78L420.1 480.4Z" fill="#f9d3c8"/>
<path d="M420.1 480.4L444.22 475.89L468.33 469.74L492.45 459.9L509.09 449.24L540.68 438.78L564.8 420.54L564.8 457.44L540.68 464.41L509.09 471.17L492.45 474.66L468.33 477.32L444.22 479.58L420.1 480.4Z" fill="#f5b6a4"/>
<path d="M420.1 480.4L444.22 476.3L468.33 470.15L492.45 460.72L509.09 450.67L540.68 439.81L564.8 420.95L564.8 454.77L540.68 461.54L509.09 469.12L492.45 473.22L468.33 476.71L444.22 479.38L420.1 480.4Z" fill="#f29d87"/>
<path d="M420.1 480.4L444.22 476.71L468.33 470.56L492.45 461.54L509.09 452.52L540.68 441.04L564.8 421.56L564.8 451.7L540.68 458.67L509.09 466.05L492.45 471.38L468.33 476.09L444.22 479.17L420.1 480.4Z" fill="#eb6548"/>
<path d="M420.1 480.4L444.22 477.12L468.33 470.97L492.45 462.36L509.09 453.75L540.68 443.5L564.8 425.05L564.8 448.42L540.68 456L509.09 461.95L492.45 469.33L468.33 475.07L444.22 478.76L420.1 480.4Z" fill="#e9583c"/>
<path d="M420.1 480.4L444.22 477.94L468.33 473.02L492.45 465.64L509.09 457.44L540.68 450.06L564.8 437.96" stroke="#fff" stroke-width="1.5" stroke-dasharray="2.8 2.4" fill="none"/>
<path d="M420.1 457.44H564.8" stroke="#cfcfcf" stroke-width="0.9"/>
<path d="M509.1 336.9V480.4" stroke="#444" stroke-width="1.2" stroke-dasharray="2 2.4"/>
<circle cx="509.1" cy="457.44" r="2.6" fill="#fff" stroke="#222" stroke-width="1"/>
<path d="M420.1 480.4V484.2" stroke="#555" stroke-width="1"/>
<text x="420.1" y="491.6" font-size="7" text-anchor="middle" fill="#2a2a2a" class="t">0</text>
<path d="M444.22 480.4V484.2" stroke="#555" stroke-width="1"/>
<text x="444.22" y="491.6" font-size="7" text-anchor="middle" fill="#2a2a2a" class="t">10</text>
<path d="M468.33 480.4V484.2" stroke="#555" stroke-width="1"/>
<text x="468.33" y="491.6" font-size="7" text-anchor="middle" fill="#2a2a2a" class="t">20</text>
<path d="M492.45 480.4V484.2" stroke="#555" stroke-width="1"/>
<text x="492.45" y="491.6" font-size="7" text-anchor="middle" fill="#2a2a2a" class="t">30</text>
<path d="M516.57 480.4V484.2" stroke="#555" stroke-width="1"/>
<text x="516.57" y="491.6" font-size="7" text-anchor="middle" fill="#2a2a2a" class="t">40</text>
<path d="M540.68 480.4V484.2" stroke="#555" stroke-width="1"/>
<text x="540.68" y="491.6" font-size="7" text-anchor="middle" fill="#2a2a2a" class="t">50</text>
<path d="M564.8 480.4V484.2" stroke="#555" stroke-width="1"/>
<text x="564.8" y="491.6" font-size="7" text-anchor="middle" fill="#2a2a2a" class="t">60</text>
<text x="492" y="497.8" font-size="7.3" text-anchor="middle" fill="#2a2a2a" class="t">Assumed lifetime (years)</text>
<text x="120" y="378.5" font-size="7" text-anchor="middle" fill="#333" font-style="italic" transform="rotate(-90 120 378.5)">historical mean</text>
<text x="312.5" y="391" font-size="7" text-anchor="middle" fill="#333" font-style="italic" transform="rotate(-90 312.5 391)">historical mean</text>
<text x="505.1" y="390" font-size="7" text-anchor="middle" fill="#333" font-style="italic" transform="rotate(-90 505.1 390)">historical mean</text>
<text x="136.2" y="418.6" font-size="7.3" text-anchor="middle" fill="#fff" font-style="italic" transform="rotate(-40 136.2 418.6)">median</text>
<text x="364" y="410" font-size="7.5" text-anchor="middle" fill="#fff" font-style="italic" transform="rotate(-55 364 410)">median</text>
<text x="551.5" y="449.5" font-size="7.5" text-anchor="middle" fill="#fff" font-style="italic" transform="rotate(-15 551.5 449.5)">median</text>
<rect x="37.8" y="358.2" width="7.7" height="6" fill="#fbe3dc"/>
<rect x="37.8" y="364.2" width="7.7" height="6.1" fill="#f8cfc4"/>
<rect x="37.8" y="370.3" width="7.7" height="5.5" fill="#f5b9a9"/>
<rect x="37.8" y="375.8" width="7.7" height="6.5" fill="#f09a84"/>
<rect x="37.8" y="382.3" width="7.7" height="11.5" fill="#ea5e42"/>
<rect x="37.8" y="393.8" width="7.7" height="2.7" fill="#f09a84"/>
<rect x="37.8" y="396.5" width="7.7" height="2" fill="#f5b9a9"/>
<rect x="37.8" y="398.5" width="7.7" height="1.5" fill="#f8cfc4"/>
<rect x="37.8" y="400" width="7.7" height="1.5" fill="#fbe3dc"/>
<path d="M37.8 388.4H45.5" stroke="#fff" stroke-width="1.4" stroke-dasharray="2.2 1.6"/>
<text x="46.6" y="360" font-size="5.8" fill="#555">95%</text>
<text x="46.6" y="366" font-size="5.8" fill="#555">90%</text>
<text x="46.6" y="371.5" font-size="5.8" fill="#555">80%</text>
<text x="46.6" y="377.5" font-size="5.8" fill="#555">68%</text>
<text x="46.6" y="383" font-size="5.8" fill="#555">50%</text>
<text x="46.6" y="390.5" font-size="5.8" fill="#555">Median</text>
<text x="38.7" y="17.2" font-size="9.6" fill="#111" font-weight="bold">a</text>
<text x="106" y="13.9" font-size="7.3" text-anchor="middle" fill="#1a1a1a" font-weight="bold">1.9</text>
<text x="38.7" y="182.9" font-size="9.6" fill="#111" font-weight="bold">d</text>
<text x="104.8" y="181.6" font-size="7.3" text-anchor="middle" fill="#1a1a1a" font-weight="bold">1.9</text>
<text x="38.7" y="350" font-size="9.6" fill="#111" font-weight="bold">g</text>
<text x="106.2" y="346.6" font-size="7.3" text-anchor="middle" fill="#1a1a1a" font-weight="bold">1.9</text>
<text x="229.8" y="17.2" font-size="9.6" fill="#111" font-weight="bold">b</text>
<text x="296.7" y="13.7" font-size="7.3" text-anchor="middle" fill="#1a1a1a" font-weight="bold">2.6</text>
<text x="229.8" y="182.9" font-size="9.6" fill="#111" font-weight="bold">e</text>
<text x="296.9" y="181.6" font-size="7.3" text-anchor="middle" fill="#1a1a1a" font-weight="bold">2.6</text>
<text x="232.6" y="350" font-size="9.6" fill="#111" font-weight="bold">h</text>
<text x="296.8" y="347" font-size="7.3" text-anchor="middle" fill="#1a1a1a" font-weight="bold">2.6</text>
<text x="422.9" y="17.2" font-size="9.6" fill="#111" font-weight="bold">c</text>
<text x="488.7" y="16.6" font-size="7.3" text-anchor="middle" fill="#1a1a1a" font-weight="bold">4.5</text>
<text x="422.9" y="182.9" font-size="9.6" fill="#111" font-weight="bold">f</text>
<text x="488.9" y="181.6" font-size="7.3" text-anchor="middle" fill="#1a1a1a" font-weight="bold">4.5</text>
<text x="427.5" y="349.5" font-size="9.6" fill="#111" font-weight="bold">i</text>
<text x="488.2" y="347.5" font-size="7.3" text-anchor="middle" fill="#1a1a1a" font-weight="bold">4.5</text>
<circle cx="139.7" cy="17.6" r="2.29" fill="#2b2b2b"/>
<text x="146.1" y="19.7" font-size="5.8" fill="#3a3a3a" font-style="italic" stroke="#333" stroke-width="0.33">GCAM</text>
<path d="M139.7 26.71L142.21 22.32L137.19 22.32Z" fill="#2b2b2b"/>
<text x="146.1" y="26.3" font-size="5.8" fill="#3a3a3a" font-style="italic" stroke="#333" stroke-width="0.33">REMIND</text>
<path d="M139.7 27.96L142.34 30.6L139.7 33.24L137.06 30.6Z" fill="#2b2b2b"/>
<text x="146.1" y="32.7" font-size="5.8" fill="#3a3a3a" font-style="italic" stroke="#333" stroke-width="0.33">MESSAGE</text>
<path d="M139.7 34.79L142.21 39.18L137.19 39.18Z" fill="#2b2b2b"/>
<text x="146.1" y="39.4" font-size="5.8" fill="#3a3a3a" font-style="italic" stroke="#333" stroke-width="0.33">IMAGE</text>
<rect x="137.68" y="41.88" width="4.05" height="4.05" fill="#2b2b2b"/>
<text x="146.1" y="46" font-size="5.8" fill="#3a3a3a" font-style="italic" stroke="#333" stroke-width="0.33">AIM</text>
<path d="M137.59 50.2H141.81M139.7 48.09V52.31" stroke="#2b2b2b" stroke-width="0.92" fill="none"/>
<text x="146.1" y="52.3" font-size="5.8" fill="#3a3a3a" font-style="italic" stroke="#333" stroke-width="0.33">WITCH</text>
<circle cx="139.7" cy="184" r="2.29" fill="#2b2b2b"/>
<text x="146.1" y="186.1" font-size="5.8" fill="#3a3a3a" font-style="italic" stroke="#333" stroke-width="0.33">GCAM</text>
<path d="M139.7 193.11L142.21 188.72L137.19 188.72Z" fill="#2b2b2b"/>
<text x="146.1" y="192.7" font-size="5.8" fill="#3a3a3a" font-style="italic" stroke="#333" stroke-width="0.33">REMIND</text>
<path d="M139.7 194.36L142.34 197L139.7 199.64L137.06 197Z" fill="#2b2b2b"/>
<text x="146.1" y="199.1" font-size="5.8" fill="#3a3a3a" font-style="italic" stroke="#333" stroke-width="0.33">MESSAGE</text>
<path d="M139.7 201.19L142.21 205.58L137.19 205.58Z" fill="#2b2b2b"/>
<text x="146.1" y="205.8" font-size="5.8" fill="#3a3a3a" font-style="italic" stroke="#333" stroke-width="0.33">IMAGE</text>
<rect x="137.68" y="208.28" width="4.05" height="4.05" fill="#2b2b2b"/>
<text x="146.1" y="212.4" font-size="5.8" fill="#3a3a3a" font-style="italic" stroke="#333" stroke-width="0.33">AIM</text>
<path d="M137.59 216.6H141.81M139.7 214.49V218.71" stroke="#2b2b2b" stroke-width="0.92" fill="none"/>
<text x="146.1" y="218.7" font-size="5.8" fill="#3a3a3a" font-style="italic" stroke="#333" stroke-width="0.33">WITCH</text>
<text x="111.4" y="132.2" font-size="6.3" fill="#333" font-style="italic" stroke="#333" stroke-width="0.2">SSP mean projection</text>
<path d="M108 134.9L111.1 131" stroke="#555" stroke-width="0.6"/>
<text x="111.9" y="248.2" font-size="6.3" fill="#333" font-style="italic" stroke="#333" stroke-width="0.2">SSP mean projection</text>
<path d="M104 251.2L111 247.5" stroke="#555" stroke-width="0.6"/>
<path d="M187.3 133L185 149" stroke="#777" stroke-width="0.6"/>
<text x="182.2" y="155.6" font-size="6.3" fill="#333" font-style="italic" stroke="#333" stroke-width="0.2">ranges</text>
<text x="184.3" y="267.8" font-size="6.0" fill="#333" font-style="italic" transform="rotate(-90 184.3 267.8)">decrease</text>
<text x="184.3" y="325" font-size="6.0" fill="#333" font-style="italic" transform="rotate(-90 184.3 325)">increase</text>
<path d="M182.7 273V285" stroke="#333" stroke-width="0.8"/>
<path d="M181 274.6L182.7 270.3L184.4 274.6Z" fill="#333"/>
<path d="M182.7 288V297" stroke="#333" stroke-width="0.8"/>
<path d="M181 295.5L182.7 299.8L184.4 295.5Z" fill="#333"/>
<text x="374.5" y="267.8" font-size="6.0" fill="#333" font-style="italic" transform="rotate(-90 374.5 267.8)">decrease</text>
<text x="374.5" y="325" font-size="6.0" fill="#333" font-style="italic" transform="rotate(-90 374.5 325)">increase</text>
<path d="M372.9 273V285" stroke="#333" stroke-width="0.8"/>
<path d="M371.2 274.6L372.9 270.3L374.6 274.6Z" fill="#333"/>
<path d="M372.9 288V297" stroke="#333" stroke-width="0.8"/>
<path d="M371.2 295.5L372.9 299.8L374.6 295.5Z" fill="#333"/>
<text x="566.4" y="267.8" font-size="6.0" fill="#333" font-style="italic" transform="rotate(-90 566.4 267.8)">decrease</text>
<text x="566.4" y="325" font-size="6.0" fill="#333" font-style="italic" transform="rotate(-90 566.4 325)">increase</text>
<path d="M564.8 273V285" stroke="#333" stroke-width="0.8"/>
<path d="M563.1 274.6L564.8 270.3L566.5 274.6Z" fill="#333"/>
<path d="M564.8 288V297" stroke="#333" stroke-width="0.8"/>
<path d="M563.1 295.5L564.8 299.8L566.5 295.5Z" fill="#333"/>
<path d="M34.3 5.6H178.1V149" stroke="#8c8c8c" stroke-width="1" fill="none"/>
<path d="M34.3 5.6V149H178.1" stroke="#6e6e6e" stroke-width="1.1" fill="none"/>
<path d="M225.4 5.6H369.2V149" stroke="#8c8c8c" stroke-width="1" fill="none"/>
<path d="M225.4 5.6V149H369.2" stroke="#6e6e6e" stroke-width="1.1" fill="none"/>
<path d="M417.5 5.6H561.3V149" stroke="#8c8c8c" stroke-width="1" fill="none"/>
<path d="M417.5 5.6V149H561.3" stroke="#6e6e6e" stroke-width="1.1" fill="none"/>
<path d="M34.3 171.3H178.1V314.7" stroke="#8c8c8c" stroke-width="1" fill="none"/>
<path d="M34.3 171.3V314.7H178.1" stroke="#6e6e6e" stroke-width="1.1" fill="none"/>
<path d="M225.4 171.3H369.2V314.7" stroke="#8c8c8c" stroke-width="1" fill="none"/>
<path d="M225.4 171.3V314.7H369.2" stroke="#6e6e6e" stroke-width="1.1" fill="none"/>
<path d="M417.5 171.3H561.3V314.7" stroke="#8c8c8c" stroke-width="1" fill="none"/>
<path d="M417.5 171.3V314.7H561.3" stroke="#6e6e6e" stroke-width="1.1" fill="none"/>
<path d="M34.3 336.9H178.6V480.4" stroke="#8c8c8c" stroke-width="1" fill="none"/>
<path d="M34.3 336.9V480.4H178.6" stroke="#6e6e6e" stroke-width="1.1" fill="none"/>
<path d="M227.2 336.9H371.6V480.4" stroke="#8c8c8c" stroke-width="1" fill="none"/>
<path d="M227.2 336.9V480.4H371.6" stroke="#6e6e6e" stroke-width="1.1" fill="none"/>
<path d="M420.1 336.9H564.8V480.4" stroke="#8c8c8c" stroke-width="1" fill="none"/>
<path d="M420.1 336.9V480.4H564.8" stroke="#6e6e6e" stroke-width="1.1" fill="none"/>
</svg></body></html>
